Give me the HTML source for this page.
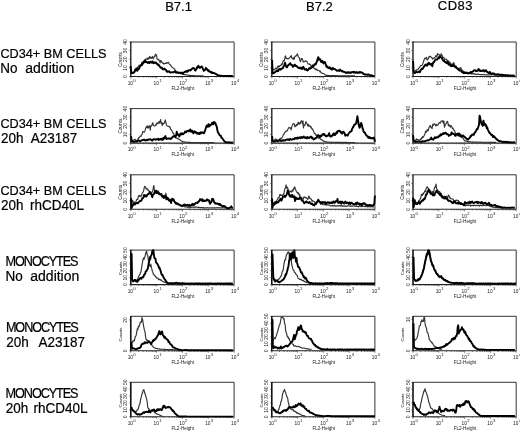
<!DOCTYPE html><html><head><meta charset="utf-8"><style>html,body{margin:0;padding:0;background:#fff;width:520px;height:432px;overflow:hidden}svg{display:block;filter:blur(0.3px)}text{font-family:"Liberation Sans",sans-serif}</style></head><body>
<svg width="520" height="432" viewBox="0 0 520 432">
<rect width="520" height="432" fill="#fff"/>
<g font-size="13" fill="#000" stroke="#000" stroke-width="0.2">
<text x="165.2" y="10.8">B7.1</text>
<text x="306" y="10.6">B7.2</text>
<text x="437.8" y="10.4" letter-spacing="0.5">CD83</text>
</g>
<text x="0.4" y="57.7" font-size="12.7" fill="#000" stroke="#000" stroke-width="0.2">CD34+ BM CELLS</text>
<text x="0.4" y="127.9" font-size="12.7" fill="#000" stroke="#000" stroke-width="0.2">CD34+ BM CELLS</text>
<text x="0.4" y="194.9" font-size="12.7" fill="#000" stroke="#000" stroke-width="0.2">CD34+ BM CELLS</text>
<text transform="translate(5.6 266) scale(0.92 1)" font-size="13.8" fill="#000" stroke="#000" stroke-width="0.2" letter-spacing="-1.2">MONOCYTES</text>
<text transform="translate(5.9 332.1) scale(0.92 1)" font-size="13.8" fill="#000" stroke="#000" stroke-width="0.2" letter-spacing="-1.2">MONOCYTES</text>
<text transform="translate(5.6 398.1) scale(0.92 1)" font-size="13.8" fill="#000" stroke="#000" stroke-width="0.2" letter-spacing="-1.2">MONOCYTES</text>
<text transform="translate(0.2 72.9) scale(1 1.06)" font-size="13.5" fill="#000" stroke="#000" stroke-width="0.2">No</text>
<text transform="translate(25.3 72.9) scale(1 1.06)" font-size="14.0" fill="#000" stroke="#000" stroke-width="0.2">addition</text>
<text transform="translate(1 143.3) scale(1 1.06)" font-size="13.5" fill="#000" stroke="#000" stroke-width="0.2">20h</text>
<text transform="translate(30.8 143.3) scale(1 1.06)" font-size="13.5" fill="#000" stroke="#000" stroke-width="0.2">A23187</text>
<text transform="translate(1 210) scale(1 1.06)" font-size="13.5" fill="#000" stroke="#000" stroke-width="0.2">20h</text>
<text transform="translate(29.9 210) scale(1 1.06)" font-size="13.5" fill="#000" stroke="#000" stroke-width="0.2">rhCD40L</text>
<text transform="translate(5.6 280.6) scale(1 1.06)" font-size="13.5" fill="#000" stroke="#000" stroke-width="0.2">No</text>
<text transform="translate(30.3 280.6) scale(1 1.06)" font-size="14.0" fill="#000" stroke="#000" stroke-width="0.2">addition</text>
<text transform="translate(6.2 347) scale(1 1.06)" font-size="13.5" fill="#000" stroke="#000" stroke-width="0.2">20h</text>
<text transform="translate(38.4 347) scale(1 1.06)" font-size="13.5" fill="#000" stroke="#000" stroke-width="0.2">A23187</text>
<text transform="translate(5.7 413) scale(1 1.06)" font-size="13.5" fill="#000" stroke="#000" stroke-width="0.2">20h</text>
<text transform="translate(33.4 413) scale(1 1.06)" font-size="13.5" fill="#000" stroke="#000" stroke-width="0.2">rhCD40L</text>
<path d="M130.8 42H234.1V76.5" fill="none" stroke="#333" stroke-width="1"/>
<path d="M130.8 76.5H234.1" fill="none" stroke="#222" stroke-width="1.1"/>
<path d="M130.8 41.6V77" fill="none" stroke="#111" stroke-width="1.3"/>
<path d="M130.8 76.5v2M138.57 76.5v1.2M143.12 76.5v1.2M146.35 76.5v1.2M148.85 76.5v1.2M150.9 76.5v1.2M152.62 76.5v1.2M154.12 76.5v1.2M155.44 76.5v1.2M156.62 76.5v2M164.4 76.5v1.2M168.95 76.5v1.2M172.17 76.5v1.2M174.68 76.5v1.2M176.72 76.5v1.2M178.45 76.5v1.2M179.95 76.5v1.2M181.27 76.5v1.2M182.45 76.5v2M190.22 76.5v1.2M194.77 76.5v1.2M198 76.5v1.2M200.5 76.5v1.2M202.55 76.5v1.2M204.27 76.5v1.2M205.77 76.5v1.2M207.09 76.5v1.2M208.28 76.5v2M216.05 76.5v1.2M220.6 76.5v1.2M223.82 76.5v1.2M226.33 76.5v1.2M228.37 76.5v1.2M230.1 76.5v1.2M231.6 76.5v1.2M232.92 76.5v1.2M234.1 76.5v2" stroke="#333" stroke-width="0.6"/>
<text x="127.7" y="84.7" font-size="4.8" fill="#1a1a1a">10<tspan font-size="4.3" dx="0.3" dy="-2.7">0</tspan></text>
<text x="153.53" y="84.7" font-size="4.8" fill="#1a1a1a">10<tspan font-size="4.3" dx="0.3" dy="-2.7">1</tspan></text>
<text x="179.35" y="84.7" font-size="4.8" fill="#1a1a1a">10<tspan font-size="4.3" dx="0.3" dy="-2.7">2</tspan></text>
<text x="205.18" y="84.7" font-size="4.8" fill="#1a1a1a">10<tspan font-size="4.3" dx="0.3" dy="-2.7">3</tspan></text>
<text x="231" y="84.7" font-size="4.8" fill="#1a1a1a">10<tspan font-size="4.3" dx="0.3" dy="-2.7">4</tspan></text>
<text x="182.85" y="89.8" font-size="4.6" fill="#1a1a1a" text-anchor="middle">FL2-Height</text>
<text transform="translate(127.3 76.5) rotate(-90)" font-size="5" fill="#1a1a1a" text-anchor="middle">0</text>
<text transform="translate(127.3 67.88) rotate(-90)" font-size="5" fill="#1a1a1a" text-anchor="middle">10</text>
<text transform="translate(127.3 59.25) rotate(-90)" font-size="5" fill="#1a1a1a" text-anchor="middle">20</text>
<text transform="translate(127.3 50.62) rotate(-90)" font-size="5" fill="#1a1a1a" text-anchor="middle">30</text>
<text transform="translate(127.3 42) rotate(-90)" font-size="5" fill="#1a1a1a" text-anchor="middle">40</text>
<path d="M130.8 76.5h-1.6M130.8 67.88h-1.6M130.8 59.25h-1.6M130.8 50.62h-1.6M130.8 42h-1.6" stroke="#333" stroke-width="0.6"/>
<text transform="translate(122 59.6) rotate(-90)" font-size="4.7" fill="#1a1a1a" text-anchor="middle">Counts</text>
<g transform="translate(129 39) scale(0.10385)" fill="none" stroke-linejoin="round">
<polyline points="22.0,330.0 26.0,333.6 30.0,333.9 35.0,330.4 40.0,328.1 45.0,325.1 50.0,319.0 55.0,318.6 60.0,307.4 65.0,302.2 70.0,296.2 75.0,293.7 80.0,280.1 85.0,266.4 90.0,264.5 95.0,259.6 100.0,250.5 105.0,257.6 110.0,254.1 115.0,246.0 120.0,243.0 125.0,226.2 130.0,229.8 135.0,226.0 140.0,214.1 145.0,209.4 150.0,201.2 155.0,198.5 160.0,192.6 165.0,195.0 170.0,191.5 175.0,184.4 180.0,198.7 185.0,181.7 190.0,192.4 195.0,182.7 200.0,165.9 205.0,185.4 210.0,179.5 215.0,186.6 220.0,179.2 225.0,167.7 230.0,184.8 235.0,191.5 240.0,173.7 245.0,165.5 250.0,169.8 254.0,145.6 258.0,149.9 265.0,153.1 270.0,191.6 275.0,197.2 280.0,198.8 285.0,195.6 290.0,206.0 295.0,215.2 300.0,229.2 305.0,206.6 310.0,211.1 315.0,221.9 320.0,226.0 325.0,233.9 330.0,230.8 335.0,241.8 340.0,237.0 345.0,236.7 350.0,233.9 355.0,234.4 360.0,227.7 365.0,234.0 370.0,230.8 375.0,226.3 380.0,223.7 385.0,237.2 390.0,243.0 395.0,247.1 400.0,247.6 405.0,262.1 410.0,266.6 415.0,272.2 420.0,275.7 425.0,279.0 430.0,281.9 435.0,285.6 440.0,293.4 445.0,302.9 450.0,302.0 455.0,314.1 460.0,319.4 465.0,321.3 470.0,319.0 475.0,325.0 480.0,322.8 485.0,324.5 490.0,329.4 495.0,333.9 500.0,335.0 505.0,335.5 510.0,332.4 515.0,338.1 520.0,339.9 525.0,341.4 530.0,343.1 535.0,341.5 540.0,344.2 545.0,342.9 550.0,344.1 555.0,346.7 560.0,346.2 565.0,348.2 570.0,347.5 575.0,348.5 580.0,350.3 585.0,349.7 590.0,350.8 595.0,351.6 600.0,351.5 605.0,352.1 610.0,351.8 615.0,352.7 620.0,353.1 625.0,353.2 630.0,353.3 635.0,353.5 640.0,354.0 645.0,353.9 650.0,354.1 655.0,354.5 660.0,354.6 665.0,354.8 670.0,355.0 675.0,355.1 680.0,355.2 685.0,355.3 690.0,355.4 695.0,355.5 700.0,355.6 705.0,355.7 710.0,355.8 715.0,355.9 720.0,356.0" stroke="#333" stroke-width="1.15" vector-effect="non-scaling-stroke"/>
<polyline points="15.0,260.0 22.0,327.2 26.0,324.6 30.0,323.0 35.0,324.6 40.0,327.2 45.0,320.8 50.0,321.5 55.0,309.4 60.0,294.1 65.0,294.4 70.0,283.3 75.0,301.2 80.0,306.2 85.0,292.6 90.0,287.2 95.0,289.1 100.0,275.3 105.0,267.2 110.0,259.7 115.0,254.8 120.0,252.3 125.0,251.4 130.0,229.3 135.0,236.8 140.0,221.2 145.0,224.6 150.0,219.0 155.0,208.7 160.0,223.1 165.0,217.2 170.0,220.0 175.0,225.4 180.0,230.7 185.0,227.9 190.0,221.7 195.0,232.1 200.0,230.7 205.0,218.0 210.0,223.9 215.0,225.4 220.0,228.5 225.0,214.7 230.0,226.1 235.0,233.3 240.0,224.3 245.0,228.0 250.0,230.7 255.0,227.6 260.0,225.7 265.0,236.8 270.0,240.5 275.0,239.5 280.0,251.7 285.0,247.5 290.0,254.7 295.0,264.6 300.0,270.4 305.0,276.5 310.0,277.5 315.0,273.5 320.0,285.5 325.0,291.3 330.0,293.2 335.0,291.5 340.0,285.2 345.0,289.9 350.0,296.2 355.0,295.1 360.0,307.4 365.0,314.7 370.0,310.8 375.0,316.7 380.0,314.7 385.0,311.3 390.0,315.0 395.0,323.5 400.0,322.3 405.0,320.6 410.0,321.3 415.0,320.7 420.0,320.9 425.0,320.8 430.0,320.3 435.0,314.6 440.0,313.5 445.0,316.6 450.0,322.3 455.0,325.7 460.0,322.3 465.0,321.4 470.0,324.8 475.0,321.5 480.0,327.0 485.0,324.7 490.0,323.7 495.0,324.8 500.0,328.4 505.0,328.3 510.0,321.8 515.0,330.1 520.0,332.9 525.0,323.6 530.0,322.1 535.0,318.8 540.0,313.3 545.0,312.1 550.0,316.8 555.0,308.7 560.0,306.4 565.0,314.4 570.0,303.7 575.0,303.1 580.0,299.6 585.0,300.4 590.0,304.4 595.0,295.7 600.0,296.1 605.0,288.9 610.0,284.7 615.0,280.5 620.0,278.6 625.0,282.0 630.0,286.5 635.0,301.9 640.0,303.7 645.0,291.6 650.0,288.2 655.0,271.5 660.0,276.4 664.0,263.1 668.0,258.0 675.0,271.3 680.0,276.9 685.0,278.2 690.0,270.5 695.0,266.0 700.0,263.5 705.0,271.2 710.0,283.8 715.0,294.6 720.0,306.9 725.0,301.8 730.0,300.1 735.0,292.3 740.0,277.7 745.0,287.7 750.0,289.2 755.0,298.3 760.0,295.6 765.0,311.4 770.0,303.8 775.0,314.0 780.0,313.1 785.0,321.1 790.0,316.1 795.0,326.5 800.0,320.3 805.0,327.2 810.0,326.9 815.0,327.6 820.0,327.4 825.0,330.6 830.0,332.6 835.0,334.8 840.0,338.4 845.0,343.8 850.0,345.2 855.0,347.0 860.0,350.2 865.0,351.2 870.0,351.7 875.0,352.6 880.0,353.1 885.0,353.3 890.0,353.9 895.0,354.6 900.0,355.0 905.0,355.2 910.0,355.5 915.0,355.8 920.0,356.0 925.0,356.2 930.0,356.5 935.0,356.8 940.0,357.0 945.0,357.0 950.0,357.0 955.0,357.0 960.0,357.0 965.0,357.0 970.0,357.0 975.0,357.0 980.0,357.0 985.0,357.0 990.0,357.0 995.0,357.0 1000.0,357.0" stroke="#000" stroke-width="1.9" vector-effect="non-scaling-stroke"/>
</g>
<path d="M271.8 42H374.9V76.5" fill="none" stroke="#333" stroke-width="1"/>
<path d="M271.8 76.5H374.9" fill="none" stroke="#222" stroke-width="1.1"/>
<path d="M271.8 41.6V77" fill="none" stroke="#111" stroke-width="1.3"/>
<path d="M271.8 76.5v2M279.56 76.5v1.2M284.1 76.5v1.2M287.32 76.5v1.2M289.82 76.5v1.2M291.86 76.5v1.2M293.58 76.5v1.2M295.08 76.5v1.2M296.4 76.5v1.2M297.57 76.5v2M305.33 76.5v1.2M309.87 76.5v1.2M313.09 76.5v1.2M315.59 76.5v1.2M317.63 76.5v1.2M319.36 76.5v1.2M320.85 76.5v1.2M322.17 76.5v1.2M323.35 76.5v2M331.11 76.5v1.2M335.65 76.5v1.2M338.87 76.5v1.2M341.37 76.5v1.2M343.41 76.5v1.2M345.13 76.5v1.2M346.63 76.5v1.2M347.95 76.5v1.2M349.12 76.5v2M356.88 76.5v1.2M361.42 76.5v1.2M364.64 76.5v1.2M367.14 76.5v1.2M369.18 76.5v1.2M370.91 76.5v1.2M372.4 76.5v1.2M373.72 76.5v1.2M374.9 76.5v2" stroke="#333" stroke-width="0.6"/>
<text x="268.7" y="84.7" font-size="4.8" fill="#1a1a1a">10<tspan font-size="4.3" dx="0.3" dy="-2.7">0</tspan></text>
<text x="294.47" y="84.7" font-size="4.8" fill="#1a1a1a">10<tspan font-size="4.3" dx="0.3" dy="-2.7">1</tspan></text>
<text x="320.25" y="84.7" font-size="4.8" fill="#1a1a1a">10<tspan font-size="4.3" dx="0.3" dy="-2.7">2</tspan></text>
<text x="346.02" y="84.7" font-size="4.8" fill="#1a1a1a">10<tspan font-size="4.3" dx="0.3" dy="-2.7">3</tspan></text>
<text x="371.8" y="84.7" font-size="4.8" fill="#1a1a1a">10<tspan font-size="4.3" dx="0.3" dy="-2.7">4</tspan></text>
<text x="323.75" y="89.8" font-size="4.6" fill="#1a1a1a" text-anchor="middle">FL2-Height</text>
<text transform="translate(268.3 76.5) rotate(-90)" font-size="5" fill="#1a1a1a" text-anchor="middle">0</text>
<text transform="translate(268.3 67.88) rotate(-90)" font-size="5" fill="#1a1a1a" text-anchor="middle">10</text>
<text transform="translate(268.3 59.25) rotate(-90)" font-size="5" fill="#1a1a1a" text-anchor="middle">20</text>
<text transform="translate(268.3 50.62) rotate(-90)" font-size="5" fill="#1a1a1a" text-anchor="middle">30</text>
<text transform="translate(268.3 42) rotate(-90)" font-size="5" fill="#1a1a1a" text-anchor="middle">40</text>
<path d="M271.8 76.5h-1.6M271.8 67.88h-1.6M271.8 59.25h-1.6M271.8 50.62h-1.6M271.8 42h-1.6" stroke="#333" stroke-width="0.6"/>
<text transform="translate(263 59.6) rotate(-90)" font-size="4.7" fill="#1a1a1a" text-anchor="middle">Counts</text>
<g transform="translate(270 39) scale(0.10385)" fill="none" stroke-linejoin="round">
<polyline points="25.0,300.0 30.0,289.7 35.0,295.2 40.0,296.4 45.0,291.5 50.0,287.4 55.0,279.2 60.0,284.9 65.0,289.4 70.0,271.0 75.0,262.1 80.0,270.7 85.0,258.8 90.0,267.0 95.0,256.5 100.0,256.5 105.0,254.1 110.0,239.9 115.0,248.6 120.0,240.5 125.0,215.3 130.0,207.4 135.0,210.9 140.0,202.9 145.0,172.0 150.0,162.7 155.0,183.1 160.0,189.2 165.0,188.5 170.0,188.5 175.0,192.4 180.0,188.8 185.0,183.6 190.0,178.2 195.0,176.5 200.0,164.6 205.0,160.3 210.0,183.5 215.0,183.9 220.0,193.4 225.0,179.9 230.0,197.0 235.0,188.9 240.0,165.4 245.0,163.2 250.0,165.9 255.0,155.8 260.0,152.4 264.0,142.8 268.0,159.1 275.0,174.4 280.0,177.7 285.0,197.0 290.0,211.2 295.0,217.6 300.0,185.1 305.0,194.6 310.0,189.3 315.0,201.8 320.0,221.4 325.0,218.2 330.0,218.2 335.0,216.1 340.0,209.6 345.0,213.8 350.0,212.3 355.0,218.7 360.0,225.2 365.0,238.1 370.0,240.4 375.0,240.5 380.0,244.8 385.0,241.3 390.0,246.8 395.0,263.6 400.0,273.3 405.0,269.1 410.0,268.2 415.0,267.1 420.0,275.0 425.0,285.2 430.0,284.3 435.0,285.6 440.0,295.4 445.0,288.6 450.0,295.2 455.0,303.9 460.0,301.1 465.0,301.9 470.0,301.9 475.0,308.1 480.0,316.0 485.0,308.8 490.0,323.1 495.0,325.8 500.0,328.6 505.0,329.6 510.0,332.4 515.0,332.6 520.0,335.4 525.0,339.7 530.0,343.6 535.0,348.4 540.0,350.1 545.0,349.8 550.0,350.5 555.0,350.7 560.0,350.8 565.0,351.1 570.0,351.5 575.0,351.9 580.0,352.1 585.0,352.1 590.0,351.8 595.0,352.1 600.0,352.2 605.0,352.6 610.0,352.9 615.0,353.0 620.0,353.1 625.0,353.2 630.0,353.0 635.0,353.4 640.0,353.4 645.0,353.2 650.0,353.3 655.0,353.5 660.0,353.9 665.0,353.8 670.0,353.9 675.0,354.1 680.0,354.0 685.0,354.0 690.0,354.0 695.0,354.2 700.0,354.1 705.0,354.2 710.0,354.3 715.0,354.3 720.0,354.3 725.0,354.4 730.0,354.3 735.0,354.4 740.0,354.5 745.0,354.5 750.0,354.5 755.0,354.6 760.0,354.6 765.0,354.6 770.0,354.7 775.0,354.7 780.0,354.7 785.0,354.7 790.0,354.8 795.0,354.8 800.0,354.9 805.0,354.9 810.0,354.9 815.0,355.0 820.0,355.0" stroke="#333" stroke-width="1.15" vector-effect="non-scaling-stroke"/>
<polyline points="20.0,200.0 25.0,330.6 30.0,324.9 35.0,329.4 40.0,326.8 45.0,319.6 50.0,319.4 55.0,311.4 60.0,308.9 65.0,307.2 70.0,310.1 75.0,301.1 80.0,308.0 85.0,291.9 90.0,292.1 95.0,289.1 100.0,296.4 105.0,288.0 110.0,287.1 115.0,282.3 120.0,284.6 125.0,278.5 130.0,265.1 135.0,258.8 140.0,243.8 145.0,227.3 152.0,256.0 156.0,263.2 160.0,272.7 165.0,271.5 170.0,258.2 175.0,252.8 180.0,248.6 185.0,243.2 190.0,243.3 195.0,233.1 200.0,244.3 205.0,250.6 210.0,252.2 215.0,251.6 220.0,268.5 225.0,254.0 230.0,261.1 235.0,251.3 240.0,246.6 245.0,255.9 250.0,260.7 255.0,259.0 260.0,265.2 265.0,272.3 270.0,272.8 275.0,279.9 280.0,279.6 285.0,277.5 290.0,281.1 295.0,274.5 300.0,285.8 305.0,285.5 310.0,287.8 315.0,272.2 320.0,268.3 325.0,275.2 330.0,287.7 335.0,294.2 340.0,290.7 345.0,295.0 350.0,289.5 355.0,300.4 360.0,303.8 365.0,299.5 370.0,294.3 375.0,282.1 380.0,280.1 385.0,287.0 390.0,283.8 395.0,281.4 400.0,269.1 405.0,271.7 410.0,253.7 415.0,265.6 420.0,261.9 425.0,249.5 430.0,242.0 435.0,245.9 440.0,243.7 445.0,232.0 450.0,221.0 455.0,205.1 460.0,188.0 465.0,175.1 470.0,200.4 475.0,189.2 480.0,193.2 485.0,196.3 490.0,220.6 495.0,221.3 500.0,211.1 505.0,211.4 510.0,228.2 515.0,235.4 520.0,220.1 525.0,225.3 530.0,222.7 535.0,239.2 540.0,253.8 545.0,270.2 550.0,263.1 555.0,266.2 560.0,277.6 565.0,280.8 570.0,278.1 575.0,272.3 580.0,286.9 585.0,281.8 590.0,290.2 595.0,295.9 600.0,286.0 605.0,278.2 610.0,285.8 615.0,288.8 620.0,289.9 625.0,289.5 630.0,295.3 635.0,298.2 640.0,301.8 645.0,307.2 650.0,304.9 655.0,302.6 660.0,300.6 665.0,307.2 670.0,303.2 675.0,294.8 680.0,303.1 685.0,302.5 690.0,309.8 695.0,313.1 700.0,309.2 705.0,314.2 710.0,317.0 715.0,317.8 720.0,317.8 725.0,320.7 730.0,327.5 735.0,322.6 740.0,321.9 745.0,326.6 750.0,319.1 755.0,320.5 760.0,325.0 765.0,324.8 770.0,320.6 775.0,325.3 780.0,326.8 785.0,320.8 790.0,320.6 795.0,317.4 800.0,317.5 805.0,323.2 810.0,316.1 815.0,320.9 820.0,325.3 825.0,320.9 830.0,324.5 835.0,317.4 840.0,323.9 845.0,326.8 850.0,326.5 855.0,321.5 860.0,318.2 865.0,324.4 870.0,317.2 875.0,322.4 880.0,321.7 885.0,322.8 890.0,325.2 895.0,327.8 900.0,336.9 905.0,338.1 910.0,341.4 915.0,344.0 920.0,341.2 925.0,341.1 930.0,342.8 935.0,345.5 940.0,344.9 945.0,341.8 950.0,341.8 955.0,344.0 960.0,347.5 965.0,350.3 970.0,349.8 975.0,348.0 980.0,349.6 985.0,352.1 990.0,353.7 995.0,355.0 1000.0,355.0 1005.0,355.0" stroke="#000" stroke-width="1.9" vector-effect="non-scaling-stroke"/>
</g>
<path d="M413 42H516.2V76.5" fill="none" stroke="#333" stroke-width="1"/>
<path d="M413 76.5H516.2" fill="none" stroke="#222" stroke-width="1.1"/>
<path d="M413 41.6V77" fill="none" stroke="#111" stroke-width="1.3"/>
<path d="M413 76.5v2M420.77 76.5v1.2M425.31 76.5v1.2M428.53 76.5v1.2M431.03 76.5v1.2M433.08 76.5v1.2M434.8 76.5v1.2M436.3 76.5v1.2M437.62 76.5v1.2M438.8 76.5v2M446.57 76.5v1.2M451.11 76.5v1.2M454.33 76.5v1.2M456.83 76.5v1.2M458.88 76.5v1.2M460.6 76.5v1.2M462.1 76.5v1.2M463.42 76.5v1.2M464.6 76.5v2M472.37 76.5v1.2M476.91 76.5v1.2M480.13 76.5v1.2M482.63 76.5v1.2M484.68 76.5v1.2M486.4 76.5v1.2M487.9 76.5v1.2M489.22 76.5v1.2M490.4 76.5v2M498.17 76.5v1.2M502.71 76.5v1.2M505.93 76.5v1.2M508.43 76.5v1.2M510.48 76.5v1.2M512.2 76.5v1.2M513.7 76.5v1.2M515.02 76.5v1.2M516.2 76.5v2" stroke="#333" stroke-width="0.6"/>
<text x="409.9" y="84.7" font-size="4.8" fill="#1a1a1a">10<tspan font-size="4.3" dx="0.3" dy="-2.7">0</tspan></text>
<text x="435.7" y="84.7" font-size="4.8" fill="#1a1a1a">10<tspan font-size="4.3" dx="0.3" dy="-2.7">1</tspan></text>
<text x="461.5" y="84.7" font-size="4.8" fill="#1a1a1a">10<tspan font-size="4.3" dx="0.3" dy="-2.7">2</tspan></text>
<text x="487.3" y="84.7" font-size="4.8" fill="#1a1a1a">10<tspan font-size="4.3" dx="0.3" dy="-2.7">3</tspan></text>
<text x="513.1" y="84.7" font-size="4.8" fill="#1a1a1a">10<tspan font-size="4.3" dx="0.3" dy="-2.7">4</tspan></text>
<text x="465" y="89.8" font-size="4.6" fill="#1a1a1a" text-anchor="middle">FL2-Height</text>
<text transform="translate(409.5 76.5) rotate(-90)" font-size="5" fill="#1a1a1a" text-anchor="middle">0</text>
<text transform="translate(409.5 67.88) rotate(-90)" font-size="5" fill="#1a1a1a" text-anchor="middle">10</text>
<text transform="translate(409.5 59.25) rotate(-90)" font-size="5" fill="#1a1a1a" text-anchor="middle">20</text>
<text transform="translate(409.5 50.62) rotate(-90)" font-size="5" fill="#1a1a1a" text-anchor="middle">30</text>
<text transform="translate(409.5 42) rotate(-90)" font-size="5" fill="#1a1a1a" text-anchor="middle">40</text>
<path d="M413 76.5h-1.6M413 67.88h-1.6M413 59.25h-1.6M413 50.62h-1.6M413 42h-1.6" stroke="#333" stroke-width="0.6"/>
<text transform="translate(404.2 59.6) rotate(-90)" font-size="4.7" fill="#1a1a1a" text-anchor="middle">Counts</text>
<g transform="translate(411 39) scale(0.10385)" fill="none" stroke-linejoin="round">
<polyline points="25.0,320.0 30.0,321.6 35.0,317.8 40.0,304.2 45.0,302.5 50.0,304.7 55.0,295.5 60.0,296.5 65.0,293.3 70.0,288.6 75.0,279.7 80.0,276.3 85.0,266.4 90.0,262.8 95.0,254.1 100.0,255.1 105.0,255.3 110.0,247.7 115.0,232.9 120.0,218.8 125.0,202.8 130.0,191.4 135.0,185.0 140.0,190.2 145.0,181.6 150.0,177.0 154.0,199.3 158.0,200.6 165.0,191.4 170.0,178.6 175.0,168.2 180.0,173.1 185.0,165.8 190.0,170.3 195.0,178.0 200.0,181.9 205.0,182.4 210.0,194.6 215.0,187.3 220.0,183.4 225.0,185.2 230.0,176.7 235.0,172.6 240.0,158.7 245.0,172.8 250.0,167.5 255.0,140.7 262.0,147.2 266.0,151.0 270.0,148.9 275.0,155.8 280.0,159.7 285.0,161.7 290.0,140.0 295.0,159.1 300.0,156.1 305.0,175.0 310.0,180.3 315.0,176.5 320.0,186.6 325.0,197.6 330.0,195.3 335.0,194.7 340.0,193.6 345.0,201.1 350.0,214.4 355.0,205.2 360.0,223.8 365.0,215.1 370.0,233.5 375.0,223.6 380.0,239.3 385.0,239.1 390.0,240.1 395.0,242.8 400.0,247.9 405.0,239.2 410.0,226.2 415.0,234.3 420.0,250.2 425.0,265.2 430.0,267.1 435.0,260.3 440.0,275.3 445.0,278.7 450.0,286.4 455.0,280.3 460.0,293.6 465.0,280.8 470.0,287.3 475.0,279.0 480.0,275.7 485.0,295.6 490.0,294.5 495.0,305.3 500.0,314.6 505.0,309.2 510.0,311.4 515.0,322.0 520.0,319.2 525.0,323.6 530.0,317.7 535.0,322.4 540.0,321.9 545.0,327.8 550.0,323.9 555.0,332.5 560.0,326.3 565.0,333.0 570.0,329.1 575.0,332.1 580.0,337.0 585.0,332.8 590.0,333.0 595.0,336.2 600.0,334.3 605.0,333.6 610.0,340.2 615.0,337.0 620.0,337.8 625.0,339.3 630.0,340.5 635.0,341.1 640.0,338.2 645.0,339.2 650.0,337.8 655.0,340.1 660.0,341.9 665.0,342.1 670.0,343.1 675.0,342.7 680.0,343.5 685.0,343.2 690.0,342.6 695.0,342.1 700.0,344.1 705.0,343.2 710.0,342.9 715.0,344.5 720.0,346.2 725.0,343.8 730.0,345.3 735.0,344.7 740.0,345.0 745.0,343.9 750.0,346.4 755.0,344.2 760.0,345.3 765.0,344.7 770.0,343.5 775.0,345.5 780.0,344.5 785.0,344.6 790.0,344.9 795.0,345.6 800.0,345.8 805.0,347.4 810.0,347.4 815.0,348.8 820.0,349.0 825.0,349.2 830.0,347.6 835.0,348.2 840.0,347.9 845.0,348.7 850.0,348.9 855.0,349.3 860.0,349.2 865.0,348.4 870.0,348.9 875.0,349.1 880.0,348.3 885.0,348.5 890.0,349.2 895.0,348.8 900.0,350.0 905.0,349.3 910.0,349.1 915.0,349.4 920.0,349.6" stroke="#333" stroke-width="1.15" vector-effect="non-scaling-stroke"/>
<polyline points="20.0,210.0 25.0,316.1 30.0,326.1 35.0,327.4 40.0,327.0 45.0,321.2 50.0,316.1 55.0,316.5 60.0,320.7 65.0,320.7 70.0,317.9 75.0,311.6 80.0,312.8 85.0,319.8 90.0,310.6 95.0,298.3 100.0,291.1 105.0,284.5 110.0,289.7 115.0,283.0 120.0,274.3 125.0,264.0 130.0,260.0 135.0,250.0 140.0,253.1 145.0,243.5 150.0,254.7 155.0,257.3 160.0,250.7 165.0,235.1 170.0,229.5 175.0,231.7 180.0,243.6 185.0,245.2 190.0,247.2 195.0,238.7 200.0,245.6 205.0,262.3 210.0,236.1 215.0,224.1 220.0,224.4 225.0,217.8 230.0,206.0 235.0,201.3 240.0,196.1 245.0,198.9 250.0,199.3 255.0,192.9 260.0,185.9 265.0,179.3 270.0,186.3 275.0,168.6 280.0,170.8 285.0,174.6 290.0,177.2 295.0,177.3 300.0,193.4 305.0,197.3 310.0,209.5 315.0,207.8 320.0,208.3 325.0,220.5 330.0,218.1 335.0,222.9 340.0,231.7 345.0,229.4 350.0,220.8 355.0,226.5 360.0,244.5 365.0,247.4 370.0,242.8 375.0,245.5 380.0,255.9 385.0,262.9 390.0,252.4 395.0,259.1 400.0,260.4 405.0,250.0 410.0,258.5 415.0,258.9 420.0,267.2 425.0,265.5 430.0,268.2 435.0,278.3 440.0,279.6 445.0,284.3 450.0,287.4 455.0,293.8 460.0,294.9 465.0,303.2 470.0,301.3 475.0,301.5 480.0,303.4 485.0,307.4 490.0,318.1 495.0,316.7 500.0,322.1 505.0,327.9 510.0,328.1 515.0,324.6 520.0,328.2 525.0,328.7 530.0,327.8 535.0,325.7 540.0,325.2 545.0,331.4 550.0,329.1 555.0,330.4 560.0,329.4 565.0,327.7 570.0,321.7 575.0,318.6 580.0,322.9 585.0,316.9 590.0,316.9 595.0,312.6 600.0,310.7 605.0,302.9 610.0,301.6 615.0,299.5 620.0,299.6 625.0,309.5 630.0,307.1 635.0,308.8 640.0,303.2 645.0,302.7 650.0,288.7 655.0,293.1 660.0,306.3 665.0,300.2 670.0,309.4 675.0,308.9 680.0,304.8 685.0,307.7 690.0,306.4 695.0,300.3 700.0,300.1 705.0,313.0 710.0,309.4 715.0,304.2 720.0,300.1 725.0,303.6 730.0,316.0 735.0,314.9 740.0,320.6 745.0,326.8 750.0,324.9 755.0,328.0 760.0,317.5 765.0,328.4 770.0,332.0 775.0,335.8 780.0,332.0 785.0,332.5 790.0,330.4 795.0,333.2 800.0,334.8 805.0,335.2 810.0,340.2 815.0,340.9 820.0,341.0 825.0,342.6 830.0,341.2 835.0,339.7 840.0,342.8 845.0,341.2 850.0,344.4 855.0,344.8 860.0,344.1 865.0,343.9 870.0,343.6 875.0,344.0 880.0,346.5 885.0,345.0 890.0,347.5 895.0,346.4 900.0,347.6 905.0,348.4 910.0,348.7 915.0,350.3 920.0,349.6 925.0,350.0 930.0,349.5 935.0,349.4 940.0,350.3 945.0,350.3 950.0,351.0 955.0,351.7 960.0,351.6 965.0,351.6 970.0,352.2 975.0,352.5 980.0,351.5 985.0,352.0 990.0,352.5 995.0,352.3 1000.0,352.5" stroke="#000" stroke-width="1.9" vector-effect="non-scaling-stroke"/>
</g>
<path d="M130.8 108.6H234.1V143.1" fill="none" stroke="#333" stroke-width="1"/>
<path d="M130.8 143.1H234.1" fill="none" stroke="#222" stroke-width="1.1"/>
<path d="M130.8 108.2V143.6" fill="none" stroke="#111" stroke-width="1.3"/>
<path d="M130.8 143.1v2M138.57 143.1v1.2M143.12 143.1v1.2M146.35 143.1v1.2M148.85 143.1v1.2M150.9 143.1v1.2M152.62 143.1v1.2M154.12 143.1v1.2M155.44 143.1v1.2M156.62 143.1v2M164.4 143.1v1.2M168.95 143.1v1.2M172.17 143.1v1.2M174.68 143.1v1.2M176.72 143.1v1.2M178.45 143.1v1.2M179.95 143.1v1.2M181.27 143.1v1.2M182.45 143.1v2M190.22 143.1v1.2M194.77 143.1v1.2M198 143.1v1.2M200.5 143.1v1.2M202.55 143.1v1.2M204.27 143.1v1.2M205.77 143.1v1.2M207.09 143.1v1.2M208.28 143.1v2M216.05 143.1v1.2M220.6 143.1v1.2M223.82 143.1v1.2M226.33 143.1v1.2M228.37 143.1v1.2M230.1 143.1v1.2M231.6 143.1v1.2M232.92 143.1v1.2M234.1 143.1v2" stroke="#333" stroke-width="0.6"/>
<text x="127.7" y="151.3" font-size="4.8" fill="#1a1a1a">10<tspan font-size="4.3" dx="0.3" dy="-2.7">0</tspan></text>
<text x="153.53" y="151.3" font-size="4.8" fill="#1a1a1a">10<tspan font-size="4.3" dx="0.3" dy="-2.7">1</tspan></text>
<text x="179.35" y="151.3" font-size="4.8" fill="#1a1a1a">10<tspan font-size="4.3" dx="0.3" dy="-2.7">2</tspan></text>
<text x="205.18" y="151.3" font-size="4.8" fill="#1a1a1a">10<tspan font-size="4.3" dx="0.3" dy="-2.7">3</tspan></text>
<text x="231" y="151.3" font-size="4.8" fill="#1a1a1a">10<tspan font-size="4.3" dx="0.3" dy="-2.7">4</tspan></text>
<text x="182.85" y="156.4" font-size="4.6" fill="#1a1a1a" text-anchor="middle">FL2-Height</text>
<text transform="translate(127.3 143.1) rotate(-90)" font-size="5" fill="#1a1a1a" text-anchor="middle">0</text>
<text transform="translate(127.3 134.47) rotate(-90)" font-size="5" fill="#1a1a1a" text-anchor="middle">10</text>
<text transform="translate(127.3 125.85) rotate(-90)" font-size="5" fill="#1a1a1a" text-anchor="middle">20</text>
<text transform="translate(127.3 117.22) rotate(-90)" font-size="5" fill="#1a1a1a" text-anchor="middle">30</text>
<text transform="translate(127.3 108.6) rotate(-90)" font-size="5" fill="#1a1a1a" text-anchor="middle">40</text>
<path d="M130.8 143.1h-1.6M130.8 134.47h-1.6M130.8 125.85h-1.6M130.8 117.22h-1.6M130.8 108.6h-1.6" stroke="#333" stroke-width="0.6"/>
<text transform="translate(122 126.2) rotate(-90)" font-size="4.7" fill="#1a1a1a" text-anchor="middle">Counts</text>
<g transform="translate(129 106) scale(0.10385)" fill="none" stroke-linejoin="round">
<polyline points="20.0,290.0 25.0,330.6 30.0,332.0 35.0,335.5 40.0,327.7 45.0,328.0 50.0,325.8 55.0,321.7 60.0,321.8 65.0,330.2 70.0,331.3 75.0,333.4 80.0,331.4 85.0,325.5 90.0,306.7 95.0,309.9 100.0,301.4 105.0,293.3 110.0,289.3 115.0,292.6 120.0,279.3 125.0,273.1 130.0,257.9 135.0,243.2 140.0,250.1 145.0,251.7 150.0,249.1 155.0,234.8 160.0,215.6 165.0,204.3 170.0,196.8 175.0,210.1 180.0,190.4 185.0,212.1 190.0,209.1 195.0,190.7 200.0,191.2 205.0,233.7 210.0,190.0 215.0,192.0 220.0,188.5 225.0,166.3 230.0,162.9 235.0,182.9 240.0,189.4 245.0,192.4 250.0,192.7 255.0,183.9 260.0,175.8 265.0,181.5 270.0,161.0 275.0,169.2 280.0,161.7 285.0,165.2 290.0,149.7 295.0,164.9 300.0,144.1 305.0,130.5 310.0,168.2 315.0,162.3 320.0,188.4 325.0,162.8 330.0,173.7 335.0,166.8 340.0,168.1 345.0,146.3 350.0,134.4 355.0,158.8 360.0,176.9 365.0,188.6 370.0,192.8 375.0,196.6 380.0,194.5 385.0,196.5 390.0,203.5 395.0,201.7 400.0,224.5 405.0,226.6 410.0,236.5 415.0,239.7 420.0,254.1 425.0,261.5 430.0,263.1 435.0,281.0 440.0,287.7 445.0,288.7 450.0,300.4 455.0,310.5 460.0,310.3 465.0,313.8 470.0,309.5 475.0,317.4 480.0,319.6 485.0,321.5 490.0,324.2 495.0,330.7 500.0,335.2 505.0,337.4 510.0,338.4 515.0,342.3 520.0,346.5 525.0,345.5 530.0,345.3 535.0,346.0 540.0,348.1 545.0,347.6 550.0,348.2 555.0,348.8 560.0,349.9 565.0,350.9 570.0,350.3 575.0,350.4 580.0,350.6 585.0,350.8 590.0,350.9 595.0,351.4 600.0,351.8 605.0,351.7 610.0,351.6 615.0,352.0 620.0,352.4 625.0,351.7 630.0,351.8 635.0,352.2 640.0,352.3 645.0,352.3 650.0,352.2 655.0,352.5 660.0,352.2 665.0,352.5 670.0,352.7 675.0,352.2 680.0,352.6 685.0,352.5 690.0,352.7 695.0,352.0 700.0,352.7 705.0,352.6 710.0,352.8 715.0,352.9 720.0,352.3 725.0,352.7 730.0,352.3 735.0,352.6 740.0,352.9 745.0,352.4 750.0,352.5 755.0,352.4 760.0,352.5 765.0,352.5 770.0,352.5 775.0,353.1 780.0,353.1 785.0,352.8 790.0,353.0 795.0,353.0 800.0,352.9 805.0,352.9 810.0,353.1 815.0,353.0 820.0,352.9" stroke="#333" stroke-width="1.15" vector-effect="non-scaling-stroke"/>
<polyline points="20.0,290.0 25.0,337.7 30.0,336.9 35.0,341.5 40.0,341.5 45.0,344.9 50.0,344.3 55.0,345.1 60.0,340.8 65.0,339.6 70.0,341.8 75.0,343.6 80.0,341.5 85.0,337.6 90.0,330.0 95.0,331.0 100.0,335.2 105.0,339.6 110.0,338.0 115.0,336.0 120.0,330.9 125.0,328.9 130.0,327.6 135.0,329.7 140.0,326.9 145.0,323.1 150.0,324.6 155.0,333.2 160.0,331.6 165.0,328.6 170.0,324.9 175.0,329.3 180.0,325.1 185.0,324.5 190.0,326.1 195.0,319.9 200.0,320.8 205.0,321.8 210.0,321.6 215.0,328.1 220.0,331.4 225.0,333.1 230.0,323.2 235.0,322.8 240.0,318.8 245.0,319.6 250.0,319.4 255.0,324.9 260.0,322.0 265.0,321.4 270.0,320.2 275.0,320.0 280.0,316.1 285.0,326.6 290.0,319.2 295.0,322.3 300.0,318.1 305.0,317.7 310.0,324.1 315.0,314.9 320.0,313.6 325.0,325.1 330.0,320.4 335.0,304.9 340.0,313.5 345.0,300.0 350.0,289.7 355.0,305.4 360.0,317.3 365.0,316.3 370.0,314.2 375.0,314.6 380.0,312.4 385.0,312.9 390.0,311.4 395.0,311.7 400.0,318.5 405.0,315.3 410.0,309.3 415.0,306.1 420.0,298.4 425.0,293.8 430.0,292.3 435.0,289.5 440.0,292.6 445.0,300.0 450.0,292.5 455.0,277.5 460.0,247.3 465.0,277.4 470.0,276.9 475.0,274.3 480.0,283.1 485.0,293.3 490.0,282.1 495.0,265.8 500.0,263.6 505.0,273.4 510.0,262.9 515.0,267.3 520.0,272.3 525.0,267.9 530.0,262.2 535.0,259.3 540.0,246.1 545.0,247.1 550.0,253.0 555.0,244.2 560.0,239.0 565.0,240.2 570.0,244.0 575.0,235.9 580.0,233.0 585.0,242.1 590.0,226.1 595.0,244.0 600.0,248.9 605.0,236.1 610.0,239.6 615.0,249.4 620.0,263.0 625.0,254.5 630.0,243.3 635.0,247.0 640.0,254.3 645.0,251.1 650.0,260.7 655.0,266.1 660.0,258.3 665.0,267.2 670.0,267.1 675.0,260.2 680.0,270.0 685.0,257.9 690.0,253.6 695.0,262.2 700.0,254.8 705.0,255.1 710.0,252.4 715.0,259.2 720.0,263.3 725.0,257.5 730.0,243.1 735.0,226.9 740.0,214.2 744.0,201.0 748.0,187.6 755.0,197.6 760.0,200.9 765.0,176.1 770.0,179.9 775.0,196.2 780.0,179.5 785.0,183.3 790.0,179.5 795.0,177.9 800.0,161.4 805.0,172.3 812.0,176.6 816.0,154.7 820.0,155.2 825.0,158.0 830.0,164.9 834.0,167.9 838.0,186.3 842.0,191.0 846.0,202.8 850.0,229.0 855.0,250.4 860.0,255.7 865.0,268.6 870.0,275.6 875.0,283.9 880.0,285.0 885.0,288.1 890.0,306.0 895.0,304.8 900.0,313.4 905.0,319.8 910.0,328.9 915.0,334.9 920.0,340.9 925.0,345.6 930.0,348.8 935.0,349.6 940.0,349.5 945.0,350.1 950.0,349.8 955.0,349.9 960.0,349.3 965.0,350.4 970.0,351.6 975.0,351.9 980.0,352.3 985.0,351.6 990.0,352.3 995.0,351.9 1000.0,351.9" stroke="#000" stroke-width="1.9" vector-effect="non-scaling-stroke"/>
</g>
<path d="M271.8 108.6H374.9V143.1" fill="none" stroke="#333" stroke-width="1"/>
<path d="M271.8 143.1H374.9" fill="none" stroke="#222" stroke-width="1.1"/>
<path d="M271.8 108.2V143.6" fill="none" stroke="#111" stroke-width="1.3"/>
<path d="M271.8 143.1v2M279.56 143.1v1.2M284.1 143.1v1.2M287.32 143.1v1.2M289.82 143.1v1.2M291.86 143.1v1.2M293.58 143.1v1.2M295.08 143.1v1.2M296.4 143.1v1.2M297.57 143.1v2M305.33 143.1v1.2M309.87 143.1v1.2M313.09 143.1v1.2M315.59 143.1v1.2M317.63 143.1v1.2M319.36 143.1v1.2M320.85 143.1v1.2M322.17 143.1v1.2M323.35 143.1v2M331.11 143.1v1.2M335.65 143.1v1.2M338.87 143.1v1.2M341.37 143.1v1.2M343.41 143.1v1.2M345.13 143.1v1.2M346.63 143.1v1.2M347.95 143.1v1.2M349.12 143.1v2M356.88 143.1v1.2M361.42 143.1v1.2M364.64 143.1v1.2M367.14 143.1v1.2M369.18 143.1v1.2M370.91 143.1v1.2M372.4 143.1v1.2M373.72 143.1v1.2M374.9 143.1v2" stroke="#333" stroke-width="0.6"/>
<text x="268.7" y="151.3" font-size="4.8" fill="#1a1a1a">10<tspan font-size="4.3" dx="0.3" dy="-2.7">0</tspan></text>
<text x="294.47" y="151.3" font-size="4.8" fill="#1a1a1a">10<tspan font-size="4.3" dx="0.3" dy="-2.7">1</tspan></text>
<text x="320.25" y="151.3" font-size="4.8" fill="#1a1a1a">10<tspan font-size="4.3" dx="0.3" dy="-2.7">2</tspan></text>
<text x="346.02" y="151.3" font-size="4.8" fill="#1a1a1a">10<tspan font-size="4.3" dx="0.3" dy="-2.7">3</tspan></text>
<text x="371.8" y="151.3" font-size="4.8" fill="#1a1a1a">10<tspan font-size="4.3" dx="0.3" dy="-2.7">4</tspan></text>
<text x="323.75" y="156.4" font-size="4.6" fill="#1a1a1a" text-anchor="middle">FL2-Height</text>
<text transform="translate(268.3 143.1) rotate(-90)" font-size="5" fill="#1a1a1a" text-anchor="middle">0</text>
<text transform="translate(268.3 134.47) rotate(-90)" font-size="5" fill="#1a1a1a" text-anchor="middle">10</text>
<text transform="translate(268.3 125.85) rotate(-90)" font-size="5" fill="#1a1a1a" text-anchor="middle">20</text>
<text transform="translate(268.3 117.22) rotate(-90)" font-size="5" fill="#1a1a1a" text-anchor="middle">30</text>
<text transform="translate(268.3 108.6) rotate(-90)" font-size="5" fill="#1a1a1a" text-anchor="middle">40</text>
<path d="M271.8 143.1h-1.6M271.8 134.47h-1.6M271.8 125.85h-1.6M271.8 117.22h-1.6M271.8 108.6h-1.6" stroke="#333" stroke-width="0.6"/>
<text transform="translate(263 126.2) rotate(-90)" font-size="4.7" fill="#1a1a1a" text-anchor="middle">Counts</text>
<g transform="translate(270 106) scale(0.10385)" fill="none" stroke-linejoin="round">
<polyline points="20.0,290.0 25.0,329.6 30.0,332.9 35.0,337.7 40.0,329.7 45.0,325.1 50.0,323.4 55.0,316.5 59.5,322.6 64.0,326.2 68.5,330.0 73.0,326.8 78.0,328.5 83.0,326.8 88.0,327.9 93.0,322.1 98.0,309.2 103.0,316.3 108.0,313.7 113.0,307.1 118.0,301.6 123.0,290.1 128.0,277.6 133.0,275.5 138.0,260.1 143.0,254.6 148.0,250.4 153.0,241.3 158.0,244.3 163.0,238.8 168.0,236.9 173.0,220.4 178.0,215.6 183.0,205.0 188.0,211.1 193.0,209.1 198.0,210.2 203.0,230.5 208.0,211.4 210.0,198.1 215.0,190.0 220.0,175.4 225.0,170.7 230.0,169.7 235.0,174.6 240.0,201.2 245.0,187.6 250.0,193.4 255.0,177.2 260.0,186.5 265.0,181.3 270.0,157.2 275.0,160.0 280.0,175.7 285.0,161.7 290.0,172.8 295.0,154.8 300.0,143.5 305.0,143.7 312.0,172.3 318.0,143.7 322.0,211.3 328.0,180.9 335.0,186.7 340.0,174.2 345.0,149.9 352.0,163.5 356.0,170.1 360.0,179.5 365.0,194.7 370.0,177.2 375.0,191.4 380.0,193.8 385.0,190.3 390.0,205.3 395.0,199.3 400.0,218.1 405.0,214.5 410.0,228.4 415.0,231.9 420.0,240.6 425.0,261.1 430.0,265.3 435.0,264.2 440.0,281.2 445.0,278.0 450.0,288.4 455.0,297.7 460.0,297.0 465.0,294.4 470.0,311.6 475.0,306.3 480.0,312.0 485.0,320.7 490.0,318.1 495.0,323.1 500.0,326.6 505.0,329.6 510.0,335.5 515.0,336.1 520.0,340.5 525.0,340.7 530.0,342.3 535.0,345.4 540.0,344.9 545.0,346.0 550.0,347.5 555.0,346.5 560.0,347.2 565.0,349.0 570.0,349.0 575.0,348.0 580.0,348.0 585.0,349.3 590.0,349.8 595.0,348.6 600.0,350.1 605.0,350.2 610.0,349.8 615.0,349.7 620.0,349.4 625.0,349.3 630.0,350.8 635.0,349.8 640.0,350.5 645.0,349.9 650.0,350.8 655.0,350.5 660.0,350.1 665.0,350.0 670.0,350.8 675.0,349.9 680.0,350.2 685.0,350.7 690.0,351.2 695.0,350.9 700.0,350.5 705.0,351.4 710.0,350.5 715.0,350.3 720.0,350.7 725.0,351.0 730.0,350.6 735.0,350.8 740.0,351.0 745.0,351.3 750.0,350.9 755.0,351.2 760.0,351.8 765.0,352.0 770.0,351.7 775.0,351.8 780.0,351.7 785.0,351.3 790.0,351.2 795.0,351.3 800.0,352.2 805.0,352.0 810.0,352.4 815.0,351.5 820.0,352.1" stroke="#333" stroke-width="1.15" vector-effect="non-scaling-stroke"/>
<polyline points="20.0,290.0 25.0,337.1 30.0,335.9 35.0,342.1 40.0,341.0 45.0,341.6 50.0,341.5 55.0,338.4 60.0,335.8 65.0,334.5 70.0,336.0 75.0,340.8 80.0,337.0 85.0,334.3 90.0,330.9 95.0,327.8 100.0,334.0 105.0,337.5 110.0,333.0 115.0,335.1 120.0,330.1 125.0,332.1 130.0,329.0 135.0,332.5 140.0,330.3 145.0,332.9 150.0,331.1 155.0,324.7 160.0,322.9 165.0,324.6 170.0,320.7 175.0,319.3 180.0,328.0 185.0,329.2 190.0,318.7 195.0,317.0 200.0,322.4 205.0,324.9 210.0,323.4 215.0,320.2 220.0,321.7 225.0,319.8 230.0,317.4 235.0,319.5 240.0,307.5 245.0,312.4 250.0,313.8 255.0,307.6 260.0,313.5 265.0,303.6 270.0,312.8 275.0,308.6 280.0,302.9 285.0,303.2 290.0,310.0 295.0,303.2 300.0,298.4 305.0,302.6 310.0,308.0 315.0,300.4 320.0,303.7 325.0,293.4 330.0,302.6 335.0,304.7 340.0,308.7 345.0,301.1 350.0,308.9 355.0,311.2 360.0,297.4 365.0,306.1 370.0,307.5 375.0,303.3 380.0,307.5 385.0,301.9 390.0,296.3 395.0,293.8 400.0,300.6 405.0,310.1 410.0,304.4 415.0,316.1 420.0,321.9 425.0,318.5 430.0,317.8 435.0,311.2 440.0,311.0 445.0,304.8 450.0,304.3 455.0,288.5 460.0,283.2 465.0,279.2 470.0,286.4 475.0,289.5 480.0,298.9 485.0,284.6 490.0,292.6 495.0,289.1 500.0,282.0 505.0,272.9 510.0,270.2 515.0,277.3 520.0,268.6 525.0,282.0 530.0,279.3 535.0,283.3 540.0,293.0 545.0,290.3 550.0,285.6 555.0,287.1 560.0,281.2 565.0,273.5 570.0,261.8 575.0,288.7 580.0,289.1 585.0,295.8 590.0,288.3 595.0,287.3 600.0,287.3 605.0,272.1 610.0,274.0 615.0,263.3 620.0,280.3 625.0,280.5 630.0,274.0 635.0,266.0 640.0,253.2 645.0,261.8 650.0,243.6 655.0,244.3 660.0,239.7 665.0,238.6 670.0,238.9 675.0,247.8 680.0,244.5 685.0,255.9 690.0,264.2 695.0,265.6 700.0,252.9 705.0,247.1 710.0,250.2 715.0,256.6 720.0,267.2 725.0,285.7 730.0,279.3 735.0,279.0 740.0,281.2 745.0,284.7 750.0,283.7 755.0,267.4 760.0,260.9 765.0,256.3 770.0,249.9 775.0,246.3 780.0,243.2 785.0,242.6 790.0,221.3 795.0,214.5 800.0,200.3 805.0,200.9 810.0,181.2 815.0,178.8 820.0,178.8 825.0,170.7 830.0,168.1 835.0,136.7 842.0,99.0 848.0,141.5 855.0,184.9 862.0,209.6 866.0,204.6 870.0,180.4 874.0,174.4 878.0,163.0 885.0,184.1 892.0,218.6 896.0,223.0 900.0,243.4 905.0,252.9 910.0,255.5 915.0,256.5 920.0,270.6 925.0,279.6 930.0,284.1 935.0,289.1 940.0,294.1 945.0,303.7 950.0,296.2 955.0,308.7 960.0,300.1 965.0,303.2 970.0,311.1 975.0,312.7 980.0,309.5 985.0,308.4 990.0,310.9 995.0,310.9 1000.0,303.4 1005.0,319.7 1010.0,344.8" stroke="#000" stroke-width="1.9" vector-effect="non-scaling-stroke"/>
</g>
<path d="M413 108.6H516.2V143.1" fill="none" stroke="#333" stroke-width="1"/>
<path d="M413 143.1H516.2" fill="none" stroke="#222" stroke-width="1.1"/>
<path d="M413 108.2V143.6" fill="none" stroke="#111" stroke-width="1.3"/>
<path d="M413 143.1v2M420.77 143.1v1.2M425.31 143.1v1.2M428.53 143.1v1.2M431.03 143.1v1.2M433.08 143.1v1.2M434.8 143.1v1.2M436.3 143.1v1.2M437.62 143.1v1.2M438.8 143.1v2M446.57 143.1v1.2M451.11 143.1v1.2M454.33 143.1v1.2M456.83 143.1v1.2M458.88 143.1v1.2M460.6 143.1v1.2M462.1 143.1v1.2M463.42 143.1v1.2M464.6 143.1v2M472.37 143.1v1.2M476.91 143.1v1.2M480.13 143.1v1.2M482.63 143.1v1.2M484.68 143.1v1.2M486.4 143.1v1.2M487.9 143.1v1.2M489.22 143.1v1.2M490.4 143.1v2M498.17 143.1v1.2M502.71 143.1v1.2M505.93 143.1v1.2M508.43 143.1v1.2M510.48 143.1v1.2M512.2 143.1v1.2M513.7 143.1v1.2M515.02 143.1v1.2M516.2 143.1v2" stroke="#333" stroke-width="0.6"/>
<text x="409.9" y="151.3" font-size="4.8" fill="#1a1a1a">10<tspan font-size="4.3" dx="0.3" dy="-2.7">0</tspan></text>
<text x="435.7" y="151.3" font-size="4.8" fill="#1a1a1a">10<tspan font-size="4.3" dx="0.3" dy="-2.7">1</tspan></text>
<text x="461.5" y="151.3" font-size="4.8" fill="#1a1a1a">10<tspan font-size="4.3" dx="0.3" dy="-2.7">2</tspan></text>
<text x="487.3" y="151.3" font-size="4.8" fill="#1a1a1a">10<tspan font-size="4.3" dx="0.3" dy="-2.7">3</tspan></text>
<text x="513.1" y="151.3" font-size="4.8" fill="#1a1a1a">10<tspan font-size="4.3" dx="0.3" dy="-2.7">4</tspan></text>
<text x="465" y="156.4" font-size="4.6" fill="#1a1a1a" text-anchor="middle">FL2-Height</text>
<text transform="translate(409.5 143.1) rotate(-90)" font-size="5" fill="#1a1a1a" text-anchor="middle">0</text>
<text transform="translate(409.5 134.47) rotate(-90)" font-size="5" fill="#1a1a1a" text-anchor="middle">10</text>
<text transform="translate(409.5 125.85) rotate(-90)" font-size="5" fill="#1a1a1a" text-anchor="middle">20</text>
<text transform="translate(409.5 117.22) rotate(-90)" font-size="5" fill="#1a1a1a" text-anchor="middle">30</text>
<text transform="translate(409.5 108.6) rotate(-90)" font-size="5" fill="#1a1a1a" text-anchor="middle">40</text>
<path d="M413 143.1h-1.6M413 134.47h-1.6M413 125.85h-1.6M413 117.22h-1.6M413 108.6h-1.6" stroke="#333" stroke-width="0.6"/>
<text transform="translate(404.2 126.2) rotate(-90)" font-size="4.7" fill="#1a1a1a" text-anchor="middle">Counts</text>
<g transform="translate(411 106) scale(0.10385)" fill="none" stroke-linejoin="round">
<polyline points="20.0,280.0 25.0,329.8 30.0,336.0 35.0,340.8 40.0,332.7 45.0,326.1 50.0,323.8 55.0,317.5 59.5,324.5 64.0,324.5 68.5,324.7 73.0,325.5 78.0,328.9 83.0,327.2 88.0,324.4 93.0,316.3 98.0,320.1 103.0,304.2 108.0,309.3 113.0,294.1 118.0,300.1 123.0,292.7 128.0,281.0 133.0,275.7 138.0,251.6 143.0,241.9 148.0,252.8 153.0,240.2 158.0,226.9 163.0,239.9 168.0,231.8 173.0,206.6 178.0,203.3 183.0,186.5 188.0,195.7 193.0,207.7 198.0,202.6 203.0,219.3 208.0,184.5 210.0,177.0 215.0,187.8 220.0,172.5 225.0,170.4 230.0,172.5 235.0,181.9 240.0,192.3 245.0,176.2 250.0,185.6 255.0,186.8 260.0,182.2 265.0,171.7 270.0,161.3 275.0,158.9 280.0,165.0 285.0,162.2 290.0,144.6 295.0,145.3 300.0,146.2 305.0,140.3 312.0,168.2 318.0,145.0 322.0,204.8 328.0,188.0 335.0,173.2 340.0,168.0 345.0,152.6 352.0,148.0 356.0,164.6 360.0,191.6 365.0,177.9 370.0,191.2 375.0,187.5 380.0,204.5 385.0,189.4 390.0,194.9 395.0,204.0 400.0,218.0 405.0,213.1 410.0,229.2 415.0,231.8 420.0,240.9 425.0,252.1 430.0,268.1 435.0,264.7 440.0,277.6 445.0,269.6 450.0,286.7 455.0,280.4 460.0,280.2 465.0,291.2 470.0,296.1 475.0,285.3 480.0,291.7 485.0,303.8 490.0,302.9 495.0,306.6 500.0,308.8 505.0,314.9 510.0,326.1 515.0,333.8 520.0,338.1 525.0,336.3 530.0,334.9 535.0,337.8 540.0,341.4 545.0,342.7 550.0,343.0 555.0,342.8 560.0,345.1 565.0,345.2 570.0,345.9 575.0,345.1 580.0,347.3 585.0,347.3 590.0,345.6 595.0,346.2 600.0,347.9 605.0,346.7 610.0,348.5 615.0,347.8 620.0,348.4 625.0,348.5 630.0,347.5 635.0,347.7 640.0,347.7 645.0,348.6 650.0,348.7 655.0,347.6 660.0,349.2 665.0,348.3 670.0,348.0 675.0,348.4 680.0,349.6 685.0,348.8 690.0,348.9 695.0,349.6 700.0,349.7 705.0,349.4 710.0,348.7 715.0,349.1 720.0,349.8 725.0,349.6 730.0,349.2 735.0,348.9 740.0,349.0 745.0,349.7 750.0,349.4 755.0,348.5 760.0,349.8 765.0,350.2 770.0,350.0 775.0,350.2 780.0,350.3 785.0,349.7 790.0,350.2 795.0,349.6 800.0,349.1 805.0,349.6 810.0,349.6 815.0,350.6 820.0,350.3" stroke="#333" stroke-width="1.15" vector-effect="non-scaling-stroke"/>
<polyline points="20.0,280.0 25.0,334.9 30.0,338.4 35.0,340.6 40.0,343.3 45.0,346.3 50.0,344.4 55.0,340.6 60.0,342.5 65.0,344.9 70.0,342.1 75.0,342.2 80.0,343.4 85.0,344.9 90.0,343.0 95.0,340.9 100.0,343.9 105.0,346.3 110.0,341.2 115.0,339.8 120.0,340.3 125.0,342.4 130.0,339.9 135.0,337.9 140.0,338.5 145.0,333.8 150.0,333.5 155.0,333.2 160.0,328.2 165.0,328.9 170.0,330.1 175.0,326.6 180.0,322.6 185.0,321.8 190.0,314.7 195.0,303.5 200.0,319.1 205.0,321.7 210.0,321.8 215.0,325.2 220.0,313.6 225.0,310.7 230.0,300.2 235.0,302.3 240.0,308.6 245.0,301.2 250.0,299.3 255.0,301.1 260.0,302.8 265.0,290.2 270.0,290.9 275.0,291.6 280.0,279.9 285.0,273.2 290.0,281.5 295.0,277.0 300.0,271.3 305.0,265.8 310.0,260.8 315.0,269.7 320.0,264.8 325.0,260.3 330.0,256.7 335.0,257.6 340.0,267.8 345.0,273.3 350.0,270.3 355.0,272.5 360.0,275.4 365.0,288.4 370.0,282.4 375.0,280.1 380.0,277.7 385.0,276.1 390.0,255.4 395.0,256.4 400.0,264.7 405.0,269.3 410.0,268.8 415.0,268.1 420.0,277.2 425.0,286.5 430.0,286.8 435.0,275.6 440.0,272.2 445.0,267.8 450.0,265.1 455.0,282.7 460.0,267.5 465.0,264.0 470.0,280.2 475.0,284.4 480.0,279.0 485.0,291.7 490.0,292.4 495.0,291.0 500.0,284.1 505.0,285.5 510.0,293.9 515.0,297.5 520.0,297.5 525.0,307.6 530.0,307.1 535.0,315.6 540.0,319.0 545.0,319.8 550.0,324.4 555.0,314.3 560.0,311.4 565.0,308.3 570.0,299.2 575.0,287.1 580.0,290.0 585.0,280.6 590.0,274.3 595.0,278.0 600.0,276.7 605.0,278.1 610.0,261.3 615.0,253.0 620.0,252.4 625.0,242.3 630.0,231.3 635.0,221.5 640.0,223.8 645.0,208.1 650.0,196.1 655.0,178.7 660.0,92.8 665.0,101.7 670.0,138.0 675.0,158.8 680.0,176.4 685.0,178.6 690.0,190.6 694.0,155.9 698.0,142.0 705.0,180.4 710.0,172.7 715.0,173.0 720.0,193.1 725.0,185.2 730.0,214.9 735.0,208.3 740.0,226.8 745.0,238.1 750.0,246.1 755.0,258.7 760.0,259.1 765.0,265.5 770.0,275.1 775.0,282.2 780.0,275.7 785.0,284.1 790.0,299.6 795.0,288.6 800.0,292.2 805.0,300.1 810.0,302.6 815.0,312.7 820.0,314.6 825.0,323.3 830.0,321.3 835.0,327.8 840.0,330.3 845.0,336.9 850.0,339.6 855.0,337.7 860.0,338.7 865.0,339.4 870.0,341.3 875.0,345.5 880.0,346.4 885.0,346.3 890.0,344.0 895.0,343.7 900.0,346.6 905.0,345.7 910.0,346.2 915.0,346.2 920.0,346.2 925.0,344.3 930.0,347.5 935.0,347.4 940.0,349.1 945.0,347.9 950.0,348.8 955.0,348.9 960.0,350.4 965.0,350.1 970.0,350.6 975.0,350.1 980.0,350.5 985.0,349.8 990.0,349.3 995.0,349.3 1000.0,349.3" stroke="#000" stroke-width="1.9" vector-effect="non-scaling-stroke"/>
</g>
<path d="M130.8 174.8H234.1V209.3" fill="none" stroke="#333" stroke-width="1"/>
<path d="M130.8 209.3H234.1" fill="none" stroke="#222" stroke-width="1.1"/>
<path d="M130.8 174.4V209.8" fill="none" stroke="#111" stroke-width="1.3"/>
<path d="M130.8 209.3v2M138.57 209.3v1.2M143.12 209.3v1.2M146.35 209.3v1.2M148.85 209.3v1.2M150.9 209.3v1.2M152.62 209.3v1.2M154.12 209.3v1.2M155.44 209.3v1.2M156.62 209.3v2M164.4 209.3v1.2M168.95 209.3v1.2M172.17 209.3v1.2M174.68 209.3v1.2M176.72 209.3v1.2M178.45 209.3v1.2M179.95 209.3v1.2M181.27 209.3v1.2M182.45 209.3v2M190.22 209.3v1.2M194.77 209.3v1.2M198 209.3v1.2M200.5 209.3v1.2M202.55 209.3v1.2M204.27 209.3v1.2M205.77 209.3v1.2M207.09 209.3v1.2M208.28 209.3v2M216.05 209.3v1.2M220.6 209.3v1.2M223.82 209.3v1.2M226.33 209.3v1.2M228.37 209.3v1.2M230.1 209.3v1.2M231.6 209.3v1.2M232.92 209.3v1.2M234.1 209.3v2" stroke="#333" stroke-width="0.6"/>
<text x="127.7" y="217.5" font-size="4.8" fill="#1a1a1a">10<tspan font-size="4.3" dx="0.3" dy="-2.7">0</tspan></text>
<text x="153.53" y="217.5" font-size="4.8" fill="#1a1a1a">10<tspan font-size="4.3" dx="0.3" dy="-2.7">1</tspan></text>
<text x="179.35" y="217.5" font-size="4.8" fill="#1a1a1a">10<tspan font-size="4.3" dx="0.3" dy="-2.7">2</tspan></text>
<text x="205.18" y="217.5" font-size="4.8" fill="#1a1a1a">10<tspan font-size="4.3" dx="0.3" dy="-2.7">3</tspan></text>
<text x="231" y="217.5" font-size="4.8" fill="#1a1a1a">10<tspan font-size="4.3" dx="0.3" dy="-2.7">4</tspan></text>
<text x="182.85" y="222.6" font-size="4.6" fill="#1a1a1a" text-anchor="middle">FL2-Height</text>
<text transform="translate(127.3 209.3) rotate(-90)" font-size="5" fill="#1a1a1a" text-anchor="middle">0</text>
<text transform="translate(127.3 200.68) rotate(-90)" font-size="5" fill="#1a1a1a" text-anchor="middle">10</text>
<text transform="translate(127.3 192.05) rotate(-90)" font-size="5" fill="#1a1a1a" text-anchor="middle">20</text>
<text transform="translate(127.3 183.43) rotate(-90)" font-size="5" fill="#1a1a1a" text-anchor="middle">30</text>
<text transform="translate(127.3 174.8) rotate(-90)" font-size="5" fill="#1a1a1a" text-anchor="middle">40</text>
<path d="M130.8 209.3h-1.6M130.8 200.68h-1.6M130.8 192.05h-1.6M130.8 183.43h-1.6M130.8 174.8h-1.6" stroke="#333" stroke-width="0.6"/>
<text transform="translate(122 192.4) rotate(-90)" font-size="4.7" fill="#1a1a1a" text-anchor="middle">Counts</text>
<g transform="translate(129 172) scale(0.10385)" fill="none" stroke-linejoin="round">
<polyline points="25.0,300.0 30.0,291.2 35.0,273.1 40.0,284.2 45.0,296.0 50.0,289.0 55.0,297.0 60.0,293.6 65.0,285.9 70.0,276.2 75.0,264.5 80.0,261.0 85.0,263.9 90.0,234.9 95.0,226.3 100.0,224.7 105.0,239.0 110.0,229.2 115.0,226.3 120.0,231.1 125.0,211.4 130.0,200.8 135.0,193.0 140.0,182.7 145.0,159.8 150.0,138.5 155.0,142.1 160.0,142.4 165.0,164.8 170.0,159.5 175.0,165.1 180.0,161.9 185.0,179.8 190.0,176.8 195.0,186.1 200.0,189.1 205.0,209.6 210.0,215.5 215.0,203.8 220.0,199.1 225.0,188.8 230.0,178.7 235.0,144.5 240.0,129.7 245.0,183.6 250.0,187.4 255.0,188.7 260.0,176.6 265.0,183.4 270.0,186.4 275.0,188.4 280.0,179.4 285.0,195.4 290.0,201.1 295.0,204.4 300.0,216.2 305.0,211.8 310.0,209.1 315.0,206.7 320.0,224.8 325.0,230.4 330.0,226.2 335.0,235.2 340.0,234.5 345.0,222.2 350.0,230.5 355.0,204.2 360.0,233.1 365.0,241.5 370.0,246.9 375.0,248.8 380.0,250.6 385.0,264.6 390.0,260.0 395.0,277.7 400.0,266.2 405.0,269.3 410.0,262.2 415.0,252.5 420.0,266.8 425.0,258.0 430.0,268.5 435.0,273.5 440.0,289.9 445.0,292.1 450.0,291.0 455.0,293.4 460.0,298.7 465.0,305.1 470.0,301.0 475.0,303.8 480.0,314.6 485.0,315.3 490.0,313.2 495.0,317.9 500.0,318.7 505.0,322.9 510.0,325.5 515.0,325.6 520.0,327.6 525.0,329.2 530.0,331.1 535.0,334.1 540.0,337.4 545.0,336.6 550.0,336.2 555.0,334.5 560.0,336.3 565.0,340.4 570.0,341.1 575.0,344.5 580.0,346.3 585.0,343.0 590.0,342.0 595.0,340.4 600.0,340.8 605.0,337.5 610.0,337.9 615.0,340.5 620.0,337.3 625.0,340.7 630.0,337.9 635.0,340.3 640.0,338.6 645.0,337.0 650.0,339.6 655.0,338.0 660.0,341.6 665.0,340.8 670.0,340.1 675.0,342.4 680.0,341.2 685.0,343.5 690.0,342.9 695.0,341.2 700.0,342.2 705.0,344.8 710.0,342.6 715.0,346.1 720.0,343.6 725.0,345.8 730.0,345.4 735.0,344.7 740.0,345.3 745.0,345.3 750.0,344.6 755.0,344.3 760.0,343.6 765.0,345.5 770.0,346.2 775.0,344.6 780.0,346.1 785.0,344.7 790.0,344.2 795.0,345.9 800.0,346.3 805.0,343.7 810.0,346.2 815.0,344.4 820.0,345.9 825.0,344.3 830.0,346.5 835.0,344.5 840.0,344.1 845.0,343.6 850.0,343.8 855.0,343.7 860.0,346.0 865.0,343.5 870.0,343.8 875.0,344.2 880.0,343.9 885.0,345.9 890.0,343.4 895.0,345.6 900.0,344.5 905.0,343.9 910.0,344.1 915.0,345.1 920.0,344.2 925.0,345.0 930.0,345.3 935.0,346.0 940.0,346.8 945.0,345.9 950.0,347.1 955.0,347.6 960.0,346.9 965.0,348.3 970.0,347.1" stroke="#333" stroke-width="1.15" vector-effect="non-scaling-stroke"/>
<polyline points="20.0,250.0 25.0,345.0 30.0,330.3 35.0,325.0 40.0,314.2 45.0,306.2 50.0,313.3 55.0,304.7 60.0,311.4 65.0,301.3 70.0,299.1 75.0,297.5 80.0,300.9 85.0,301.4 90.0,295.5 95.0,287.3 100.0,281.9 105.0,281.7 110.0,278.1 115.0,280.0 120.0,272.6 125.0,258.4 130.0,249.8 135.0,252.2 140.0,241.4 145.0,221.8 150.0,235.0 155.0,223.9 160.0,225.1 165.0,236.2 170.0,231.4 175.0,223.7 180.0,215.0 185.0,211.0 190.0,212.5 195.0,204.8 200.0,193.1 205.0,194.4 210.0,206.9 215.0,210.4 220.0,233.2 225.0,242.1 230.0,217.5 235.0,215.8 240.0,211.7 245.0,202.1 250.0,189.3 255.0,194.5 260.0,179.7 265.0,204.2 270.0,197.2 275.0,197.5 280.0,202.1 285.0,196.6 290.0,214.0 295.0,211.2 300.0,215.9 305.0,214.4 310.0,221.5 315.0,228.1 320.0,236.5 325.0,228.2 330.0,246.7 335.0,250.6 340.0,237.1 345.0,245.3 350.0,234.9 355.0,240.0 360.0,263.6 365.0,247.9 370.0,248.4 375.0,261.1 380.0,266.9 385.0,274.3 390.0,277.9 395.0,274.5 400.0,273.8 405.0,299.8 410.0,264.2 415.0,265.2 420.0,260.3 425.0,273.0 430.0,265.1 435.0,282.5 440.0,285.8 445.0,294.1 450.0,303.4 455.0,300.4 460.0,300.7 465.0,310.7 470.0,311.7 475.0,311.4 480.0,311.0 485.0,313.5 490.0,319.4 495.0,324.3 500.0,323.1 505.0,323.3 510.0,329.7 515.0,322.5 520.0,322.7 525.0,319.9 530.0,315.0 535.0,312.5 540.0,322.0 545.0,317.1 550.0,318.3 555.0,321.0 560.0,316.1 565.0,320.4 570.0,325.6 575.0,318.4 580.0,316.3 585.0,327.1 590.0,326.5 595.0,322.6 600.0,316.0 605.0,317.7 610.0,307.8 615.0,313.3 620.0,319.0 625.0,308.9 630.0,314.1 635.0,305.6 640.0,303.5 645.0,296.7 650.0,296.9 655.0,295.8 660.0,299.5 665.0,289.9 670.0,281.6 675.0,284.1 680.0,276.9 685.0,260.6 690.0,267.2 695.0,267.8 700.0,273.2 705.0,261.5 710.0,282.3 715.0,271.4 720.0,270.7 725.0,279.9 730.0,280.7 735.0,277.0 740.0,273.9 745.0,277.3 750.0,263.9 755.0,263.6 760.0,271.9 765.0,272.9 770.0,272.2 775.0,290.6 780.0,306.6 785.0,295.2 790.0,294.3 795.0,282.7 800.0,258.8 805.0,257.0 810.0,262.3 815.0,273.5 820.0,292.8 825.0,293.5 830.0,303.6 835.0,301.5 840.0,305.8 845.0,303.1 850.0,303.1 855.0,307.4 860.0,311.4 865.0,306.1 870.0,316.3 875.0,306.6 880.0,317.8 885.0,321.1 890.0,320.8 895.0,325.6 900.0,331.7 905.0,326.4 910.0,329.4 915.0,331.4 920.0,327.8 925.0,335.3 930.0,337.8 935.0,341.0 940.0,343.7 945.0,347.5 950.0,349.8 955.0,350.4 960.0,350.3 965.0,348.1 970.0,343.5 975.0,342.4 980.0,342.3 985.0,330.3 990.0,340.6 995.0,345.0 1000.0,347.3" stroke="#000" stroke-width="1.9" vector-effect="non-scaling-stroke"/>
</g>
<path d="M271.8 174.8H374.9V209.3" fill="none" stroke="#333" stroke-width="1"/>
<path d="M271.8 209.3H374.9" fill="none" stroke="#222" stroke-width="1.1"/>
<path d="M271.8 174.4V209.8" fill="none" stroke="#111" stroke-width="1.3"/>
<path d="M271.8 209.3v2M279.56 209.3v1.2M284.1 209.3v1.2M287.32 209.3v1.2M289.82 209.3v1.2M291.86 209.3v1.2M293.58 209.3v1.2M295.08 209.3v1.2M296.4 209.3v1.2M297.57 209.3v2M305.33 209.3v1.2M309.87 209.3v1.2M313.09 209.3v1.2M315.59 209.3v1.2M317.63 209.3v1.2M319.36 209.3v1.2M320.85 209.3v1.2M322.17 209.3v1.2M323.35 209.3v2M331.11 209.3v1.2M335.65 209.3v1.2M338.87 209.3v1.2M341.37 209.3v1.2M343.41 209.3v1.2M345.13 209.3v1.2M346.63 209.3v1.2M347.95 209.3v1.2M349.12 209.3v2M356.88 209.3v1.2M361.42 209.3v1.2M364.64 209.3v1.2M367.14 209.3v1.2M369.18 209.3v1.2M370.91 209.3v1.2M372.4 209.3v1.2M373.72 209.3v1.2M374.9 209.3v2" stroke="#333" stroke-width="0.6"/>
<text x="268.7" y="217.5" font-size="4.8" fill="#1a1a1a">10<tspan font-size="4.3" dx="0.3" dy="-2.7">0</tspan></text>
<text x="294.47" y="217.5" font-size="4.8" fill="#1a1a1a">10<tspan font-size="4.3" dx="0.3" dy="-2.7">1</tspan></text>
<text x="320.25" y="217.5" font-size="4.8" fill="#1a1a1a">10<tspan font-size="4.3" dx="0.3" dy="-2.7">2</tspan></text>
<text x="346.02" y="217.5" font-size="4.8" fill="#1a1a1a">10<tspan font-size="4.3" dx="0.3" dy="-2.7">3</tspan></text>
<text x="371.8" y="217.5" font-size="4.8" fill="#1a1a1a">10<tspan font-size="4.3" dx="0.3" dy="-2.7">4</tspan></text>
<text x="323.75" y="222.6" font-size="4.6" fill="#1a1a1a" text-anchor="middle">FL2-Height</text>
<text transform="translate(268.3 209.3) rotate(-90)" font-size="5" fill="#1a1a1a" text-anchor="middle">0</text>
<text transform="translate(268.3 200.68) rotate(-90)" font-size="5" fill="#1a1a1a" text-anchor="middle">10</text>
<text transform="translate(268.3 192.05) rotate(-90)" font-size="5" fill="#1a1a1a" text-anchor="middle">20</text>
<text transform="translate(268.3 183.43) rotate(-90)" font-size="5" fill="#1a1a1a" text-anchor="middle">30</text>
<text transform="translate(268.3 174.8) rotate(-90)" font-size="5" fill="#1a1a1a" text-anchor="middle">40</text>
<path d="M271.8 209.3h-1.6M271.8 200.68h-1.6M271.8 192.05h-1.6M271.8 183.43h-1.6M271.8 174.8h-1.6" stroke="#333" stroke-width="0.6"/>
<text transform="translate(263 192.4) rotate(-90)" font-size="4.7" fill="#1a1a1a" text-anchor="middle">Counts</text>
<g transform="translate(270 172) scale(0.10385)" fill="none" stroke-linejoin="round">
<polyline points="25.0,310.0 30.0,300.5 35.0,302.6 40.0,296.9 45.0,289.7 50.0,283.2 55.0,289.5 60.0,284.8 65.0,275.2 70.0,267.6 75.0,255.4 80.0,246.1 85.0,247.6 90.0,239.2 95.0,216.1 100.0,216.5 105.0,224.6 110.0,224.6 115.0,220.7 120.0,232.9 125.0,220.2 130.0,215.9 135.0,202.7 140.0,171.1 145.0,160.5 150.0,149.9 155.0,123.9 160.0,155.2 165.0,146.4 170.0,153.4 175.0,183.0 180.0,173.3 185.0,200.2 190.0,186.4 195.0,186.3 200.0,186.3 205.0,194.6 210.0,182.5 215.0,173.8 220.0,186.6 225.0,163.2 230.0,167.4 235.0,142.0 240.0,148.5 244.0,160.8 248.0,171.7 255.0,191.4 260.0,194.4 265.0,205.3 270.0,196.5 275.0,209.5 280.0,222.1 285.0,213.7 290.0,238.6 295.0,247.5 300.0,243.3 305.0,247.5 310.0,254.1 315.0,258.0 320.0,261.5 325.0,242.9 330.0,238.7 335.0,242.5 340.0,249.1 345.0,249.5 350.0,247.4 355.0,254.8 360.0,258.4 365.0,264.4 370.0,239.7 375.0,232.2 380.0,243.6 385.0,257.2 390.0,254.4 395.0,259.4 400.0,267.5 405.0,281.9 410.0,275.0 415.0,281.5 420.0,282.0 425.0,284.1 430.0,286.1 435.0,299.5 440.0,296.6 445.0,288.1 450.0,287.8 455.0,282.8 460.0,283.9 465.0,282.4 470.0,278.5 475.0,292.5 480.0,296.9 485.0,296.3 490.0,305.3 495.0,304.9 500.0,305.8 505.0,306.7 510.0,315.9 515.0,307.7 520.0,304.4 525.0,315.2 530.0,316.0 535.0,313.5 540.0,319.2 545.0,310.8 550.0,314.6 555.0,316.4 560.0,319.1 565.0,316.9 570.0,316.4 575.0,319.8 580.0,326.1 585.0,327.3 590.0,325.2 595.0,322.9 600.0,321.0 605.0,328.4 610.0,324.5 615.0,326.8 620.0,320.5 625.0,322.3 630.0,328.2 635.0,327.8 640.0,328.6 645.0,326.0 650.0,324.3 655.0,325.8 660.0,328.3 665.0,323.2 670.0,325.3 675.0,323.2 680.0,328.1 685.0,321.4 690.0,327.9 695.0,330.6 700.0,322.6 705.0,327.9 710.0,328.7 715.0,330.7 720.0,328.7 725.0,326.0 730.0,327.4 735.0,332.2 740.0,331.8 745.0,325.4 750.0,325.2 755.0,325.3 760.0,324.9 765.0,328.5 770.0,326.1 775.0,332.1 780.0,330.5 785.0,326.3 790.0,329.7 795.0,328.1 800.0,329.6 805.0,327.5 810.0,327.1 815.0,327.4 820.0,329.0 825.0,331.7 830.0,330.6 835.0,326.8 840.0,332.0 845.0,333.4 850.0,332.7 855.0,332.9 860.0,327.0 865.0,330.6 870.0,327.7 875.0,333.1 880.0,328.8 885.0,332.9 890.0,329.6 895.0,333.0 900.0,330.2 905.0,328.3 910.0,331.0 915.0,330.5 920.0,334.9 925.0,330.7 930.0,332.4 935.0,332.9 940.0,335.9 945.0,330.1 950.0,333.8 955.0,333.4 960.0,335.1 965.0,336.8 970.0,332.6 975.0,335.4 980.0,334.4 985.0,334.8 990.0,331.8 995.0,336.8 1000.0,338.0" stroke="#333" stroke-width="1.15" vector-effect="non-scaling-stroke"/>
<polyline points="20.0,255.0 25.0,343.7 30.0,301.2 35.0,303.6 40.0,315.4 45.0,306.5 50.0,300.3 55.0,303.7 60.0,291.9 65.0,297.6 70.0,288.8 75.0,290.2 80.0,292.2 85.0,282.4 90.0,271.7 95.0,272.7 100.0,256.9 105.0,266.3 110.0,276.0 115.0,264.4 120.0,249.1 125.0,239.9 130.0,237.0 135.0,236.1 140.0,227.4 145.0,241.2 150.0,233.0 155.0,228.1 160.0,218.4 165.0,206.1 170.0,177.8 175.0,191.9 180.0,208.9 185.0,222.2 190.0,232.3 195.0,238.2 200.0,222.7 205.0,227.8 210.0,239.6 215.0,220.1 220.0,230.2 225.0,241.2 230.0,240.6 235.0,234.5 240.0,279.1 245.0,268.6 250.0,246.1 255.0,258.8 260.0,252.8 265.0,257.4 270.0,261.4 275.0,260.2 280.0,260.4 285.0,246.7 290.0,244.3 295.0,252.3 300.0,259.6 305.0,272.4 310.0,276.0 315.0,272.8 320.0,283.0 325.0,291.9 330.0,300.2 335.0,296.5 340.0,291.2 345.0,292.0 350.0,282.3 355.0,291.4 360.0,291.7 365.0,296.1 370.0,298.3 375.0,297.5 380.0,287.8 385.0,296.6 390.0,300.0 395.0,308.1 400.0,307.8 405.0,302.9 410.0,308.6 415.0,318.2 420.0,315.4 425.0,321.8 430.0,309.3 435.0,312.3 440.0,305.9 445.0,306.4 450.0,293.1 455.0,287.2 460.0,280.1 465.0,266.3 470.0,277.1 475.0,286.2 480.0,286.7 485.0,290.4 490.0,305.1 495.0,291.4 500.0,301.6 505.0,289.0 510.0,293.9 515.0,291.0 520.0,292.0 525.0,294.0 530.0,287.9 535.0,301.2 540.0,306.5 545.0,301.6 550.0,295.3 555.0,291.1 560.0,293.3 565.0,293.9 570.0,298.2 575.0,292.6 580.0,300.8 585.0,298.6 590.0,291.0 595.0,295.9 600.0,299.3 605.0,295.8 610.0,282.7 615.0,294.9 620.0,296.1 625.0,294.8 630.0,281.3 635.0,282.1 640.0,283.3 645.0,276.7 650.0,259.2 655.0,294.0 660.0,296.2 665.0,298.3 670.0,292.7 675.0,283.9 680.0,289.7 685.0,305.4 690.0,287.7 695.0,285.6 700.0,291.1 705.0,298.6 710.0,295.3 715.0,303.6 720.0,292.3 725.0,284.3 730.0,293.2 735.0,300.4 740.0,295.0 745.0,293.4 750.0,300.8 755.0,298.6 760.0,307.3 765.0,293.3 770.0,301.2 775.0,307.9 780.0,295.7 785.0,295.1 790.0,298.5 795.0,305.3 800.0,308.6 805.0,308.3 810.0,313.7 815.0,310.4 820.0,310.1 825.0,298.8 830.0,302.9 835.0,311.2 840.0,293.4 845.0,300.9 850.0,299.8 855.0,309.2 860.0,313.3 865.0,304.1 870.0,313.1 875.0,312.2 880.0,308.0 885.0,321.0 890.0,303.9 895.0,307.6 900.0,300.0 905.0,306.5 910.0,301.5 915.0,305.9 920.0,309.3 925.0,317.7 930.0,316.3 935.0,321.2 940.0,323.7 945.0,320.5 950.0,322.7 955.0,317.5 960.0,316.6 965.0,322.1 970.0,317.6 975.0,322.9 980.0,323.0 985.0,325.9 990.0,320.7 995.0,320.9 1000.0,315.3 1005.0,301.9 1010.0,226.5" stroke="#000" stroke-width="1.9" vector-effect="non-scaling-stroke"/>
</g>
<path d="M413 174.8H516.2V209.3" fill="none" stroke="#333" stroke-width="1"/>
<path d="M413 209.3H516.2" fill="none" stroke="#222" stroke-width="1.1"/>
<path d="M413 174.4V209.8" fill="none" stroke="#111" stroke-width="1.3"/>
<path d="M413 209.3v2M420.77 209.3v1.2M425.31 209.3v1.2M428.53 209.3v1.2M431.03 209.3v1.2M433.08 209.3v1.2M434.8 209.3v1.2M436.3 209.3v1.2M437.62 209.3v1.2M438.8 209.3v2M446.57 209.3v1.2M451.11 209.3v1.2M454.33 209.3v1.2M456.83 209.3v1.2M458.88 209.3v1.2M460.6 209.3v1.2M462.1 209.3v1.2M463.42 209.3v1.2M464.6 209.3v2M472.37 209.3v1.2M476.91 209.3v1.2M480.13 209.3v1.2M482.63 209.3v1.2M484.68 209.3v1.2M486.4 209.3v1.2M487.9 209.3v1.2M489.22 209.3v1.2M490.4 209.3v2M498.17 209.3v1.2M502.71 209.3v1.2M505.93 209.3v1.2M508.43 209.3v1.2M510.48 209.3v1.2M512.2 209.3v1.2M513.7 209.3v1.2M515.02 209.3v1.2M516.2 209.3v2" stroke="#333" stroke-width="0.6"/>
<text x="409.9" y="217.5" font-size="4.8" fill="#1a1a1a">10<tspan font-size="4.3" dx="0.3" dy="-2.7">0</tspan></text>
<text x="435.7" y="217.5" font-size="4.8" fill="#1a1a1a">10<tspan font-size="4.3" dx="0.3" dy="-2.7">1</tspan></text>
<text x="461.5" y="217.5" font-size="4.8" fill="#1a1a1a">10<tspan font-size="4.3" dx="0.3" dy="-2.7">2</tspan></text>
<text x="487.3" y="217.5" font-size="4.8" fill="#1a1a1a">10<tspan font-size="4.3" dx="0.3" dy="-2.7">3</tspan></text>
<text x="513.1" y="217.5" font-size="4.8" fill="#1a1a1a">10<tspan font-size="4.3" dx="0.3" dy="-2.7">4</tspan></text>
<text x="465" y="222.6" font-size="4.6" fill="#1a1a1a" text-anchor="middle">FL2-Height</text>
<text transform="translate(409.5 209.3) rotate(-90)" font-size="5" fill="#1a1a1a" text-anchor="middle">0</text>
<text transform="translate(409.5 200.68) rotate(-90)" font-size="5" fill="#1a1a1a" text-anchor="middle">10</text>
<text transform="translate(409.5 192.05) rotate(-90)" font-size="5" fill="#1a1a1a" text-anchor="middle">20</text>
<text transform="translate(409.5 183.43) rotate(-90)" font-size="5" fill="#1a1a1a" text-anchor="middle">30</text>
<text transform="translate(409.5 174.8) rotate(-90)" font-size="5" fill="#1a1a1a" text-anchor="middle">40</text>
<path d="M413 209.3h-1.6M413 200.68h-1.6M413 192.05h-1.6M413 183.43h-1.6M413 174.8h-1.6" stroke="#333" stroke-width="0.6"/>
<text transform="translate(404.2 192.4) rotate(-90)" font-size="4.7" fill="#1a1a1a" text-anchor="middle">Counts</text>
<g transform="translate(411 172) scale(0.10385)" fill="none" stroke-linejoin="round">
<polyline points="25.0,300.0 30.0,292.0 35.0,264.0 40.0,272.5 45.0,297.4 50.0,290.5 55.0,294.7 60.0,299.6 65.0,292.8 70.0,293.4 75.0,275.8 80.0,282.4 85.0,267.0 90.0,256.8 95.0,248.4 100.0,214.1 105.0,224.2 110.0,224.4 115.0,202.6 120.0,213.6 125.0,202.1 130.0,190.6 135.0,180.0 140.0,188.7 145.0,162.2 150.0,152.4 154.0,142.9 158.0,143.5 165.0,156.8 170.0,170.2 175.0,177.8 180.0,171.5 185.0,191.3 190.0,183.0 195.0,201.6 200.0,203.2 205.0,193.6 210.0,186.6 215.0,207.5 220.0,186.6 225.0,156.8 230.0,142.8 235.0,145.9 242.0,116.3 246.0,159.3 250.0,165.2 255.0,172.9 260.0,177.8 265.0,186.4 270.0,195.1 275.0,187.9 280.0,197.1 285.0,206.9 290.0,205.5 295.0,219.5 300.0,225.9 305.0,228.7 310.0,238.4 315.0,238.1 320.0,232.0 325.0,252.0 330.0,242.3 335.0,238.7 340.0,233.1 345.0,248.3 350.0,253.5 355.0,235.2 360.0,222.9 365.0,224.4 370.0,247.7 375.0,241.4 380.0,255.8 385.0,254.8 390.0,257.0 395.0,260.0 400.0,259.7 405.0,259.7 410.0,270.6 415.0,277.4 420.0,277.4 425.0,272.7 430.0,283.1 435.0,270.3 440.0,273.6 445.0,275.5 450.0,272.2 455.0,274.4 460.0,290.3 465.0,287.5 470.0,290.4 475.0,293.7 480.0,302.1 485.0,301.0 490.0,299.6 495.0,305.6 500.0,306.9 505.0,305.6 510.0,313.7 515.0,319.0 520.0,321.2 525.0,327.0 530.0,320.4 535.0,321.5 540.0,319.6 545.0,317.2 550.0,316.4 555.0,323.1 560.0,321.3 565.0,320.4 570.0,319.0 575.0,328.8 580.0,323.6 585.0,320.6 590.0,320.7 595.0,320.3 600.0,325.8 605.0,319.5 610.0,321.3 615.0,320.3 620.0,324.7 625.0,320.9 630.0,320.9 635.0,323.7 640.0,324.7 645.0,324.8 650.0,317.8 655.0,322.5 660.0,328.3 665.0,319.7 670.0,320.6 675.0,322.6 680.0,320.8 685.0,325.3 690.0,325.7 695.0,323.9 700.0,322.6 705.0,321.6 710.0,321.2 715.0,318.3 720.0,323.7 725.0,317.9 730.0,325.2 735.0,322.1 740.0,315.1 745.0,322.5 750.0,326.0 755.0,323.5 760.0,329.9 765.0,327.7 770.0,334.4 775.0,330.4 780.0,335.8 785.0,339.1 790.0,339.4 795.0,337.4 800.0,340.2 805.0,338.9 810.0,340.3 815.0,343.0 820.0,343.3 825.0,340.3 830.0,342.1 835.0,343.4 840.0,342.0 845.0,344.6 850.0,345.2 855.0,344.3 860.0,343.9 865.0,345.8 870.0,345.0" stroke="#333" stroke-width="1.15" vector-effect="non-scaling-stroke"/>
<polyline points="20.0,245.0 25.0,340.0 30.0,311.3 35.0,276.9 40.0,296.4 45.0,303.2 50.0,308.5 55.0,309.5 60.0,309.5 65.0,303.3 70.0,298.8 75.0,289.3 80.0,296.8 85.0,306.6 90.0,295.8 95.0,288.2 100.0,287.0 105.0,274.4 110.0,272.2 115.0,274.7 120.0,264.5 125.0,258.0 130.0,263.5 135.0,250.4 140.0,236.6 145.0,216.3 150.0,217.1 155.0,204.9 160.0,184.8 165.0,185.9 172.0,168.2 176.0,178.5 180.0,198.6 185.0,192.6 190.0,211.0 195.0,209.2 200.0,207.4 205.0,211.5 210.0,225.1 215.0,222.3 220.0,214.9 225.0,225.0 230.0,208.1 235.0,198.0 240.0,194.6 245.0,180.4 250.0,184.1 255.0,192.8 260.0,199.1 265.0,204.6 270.0,206.3 275.0,216.7 280.0,222.2 285.0,210.5 290.0,227.7 295.0,236.2 300.0,244.7 305.0,242.9 310.0,248.8 315.0,247.6 320.0,256.4 325.0,252.0 330.0,240.3 335.0,254.0 340.0,257.2 345.0,258.1 350.0,255.4 355.0,272.6 360.0,275.1 365.0,279.6 370.0,275.9 375.0,277.4 380.0,280.2 385.0,285.7 390.0,287.6 395.0,296.1 400.0,293.6 405.0,299.7 410.0,283.4 415.0,285.9 420.0,290.8 425.0,290.0 430.0,297.5 435.0,302.4 440.0,301.9 445.0,298.0 450.0,298.9 455.0,306.7 460.0,293.7 465.0,300.3 470.0,299.7 475.0,307.6 480.0,308.1 485.0,303.0 490.0,307.4 495.0,309.9 500.0,311.4 505.0,316.8 510.0,320.9 515.0,309.7 520.0,288.8 525.0,297.8 530.0,302.3 535.0,303.0 540.0,295.6 545.0,295.8 550.0,295.0 555.0,292.6 560.0,299.8 565.0,285.4 570.0,293.5 575.0,299.4 580.0,288.6 585.0,286.8 590.0,284.7 595.0,294.7 600.0,296.6 605.0,299.6 610.0,296.6 615.0,292.8 620.0,289.8 625.0,288.4 630.0,288.6 635.0,286.9 640.0,300.8 645.0,287.9 650.0,297.1 655.0,294.6 660.0,293.5 665.0,293.4 670.0,300.3 675.0,302.3 680.0,289.0 685.0,291.8 690.0,299.7 695.0,307.4 700.0,300.9 705.0,301.1 710.0,296.8 715.0,295.7 720.0,299.7 725.0,305.5 730.0,311.7 735.0,310.2 740.0,307.2 745.0,305.6 750.0,296.3 755.0,306.9 760.0,317.7 765.0,314.3 770.0,323.7 775.0,315.9 780.0,326.2 785.0,323.2 790.0,322.4 795.0,321.0 800.0,320.7 805.0,317.4 810.0,317.6 815.0,321.2 820.0,329.4 825.0,329.8 830.0,328.8 835.0,332.5 840.0,330.0 845.0,331.0 850.0,334.7 855.0,335.6 860.0,340.5 865.0,337.0 870.0,341.3 875.0,339.2 880.0,343.8 885.0,343.0 890.0,343.9 895.0,342.6 900.0,340.5 905.0,344.5 910.0,345.1 915.0,344.9 920.0,345.7 925.0,345.6 930.0,344.8 935.0,344.3 940.0,344.2 945.0,345.2 950.0,344.4 955.0,345.4 960.0,344.3 965.0,342.8 970.0,344.8 975.0,343.2 980.0,342.2 985.0,343.6 990.0,345.1 995.0,344.4 1000.0,344.4" stroke="#000" stroke-width="1.9" vector-effect="non-scaling-stroke"/>
</g>
<path d="M130.8 250.1H234.1V284.6" fill="none" stroke="#333" stroke-width="1"/>
<path d="M130.8 284.6H234.1" fill="none" stroke="#222" stroke-width="1.1"/>
<path d="M130.8 249.7V285.1" fill="none" stroke="#111" stroke-width="1.6"/>
<path d="M130.8 284.6v2M138.57 284.6v1.2M143.12 284.6v1.2M146.35 284.6v1.2M148.85 284.6v1.2M150.9 284.6v1.2M152.62 284.6v1.2M154.12 284.6v1.2M155.44 284.6v1.2M156.62 284.6v2M164.4 284.6v1.2M168.95 284.6v1.2M172.17 284.6v1.2M174.68 284.6v1.2M176.72 284.6v1.2M178.45 284.6v1.2M179.95 284.6v1.2M181.27 284.6v1.2M182.45 284.6v2M190.22 284.6v1.2M194.77 284.6v1.2M198 284.6v1.2M200.5 284.6v1.2M202.55 284.6v1.2M204.27 284.6v1.2M205.77 284.6v1.2M207.09 284.6v1.2M208.28 284.6v2M216.05 284.6v1.2M220.6 284.6v1.2M223.82 284.6v1.2M226.33 284.6v1.2M228.37 284.6v1.2M230.1 284.6v1.2M231.6 284.6v1.2M232.92 284.6v1.2M234.1 284.6v2" stroke="#333" stroke-width="0.6"/>
<text x="127.7" y="292.8" font-size="4.8" fill="#1a1a1a">10<tspan font-size="4.3" dx="0.3" dy="-2.7">0</tspan></text>
<text x="153.53" y="292.8" font-size="4.8" fill="#1a1a1a">10<tspan font-size="4.3" dx="0.3" dy="-2.7">1</tspan></text>
<text x="179.35" y="292.8" font-size="4.8" fill="#1a1a1a">10<tspan font-size="4.3" dx="0.3" dy="-2.7">2</tspan></text>
<text x="205.18" y="292.8" font-size="4.8" fill="#1a1a1a">10<tspan font-size="4.3" dx="0.3" dy="-2.7">3</tspan></text>
<text x="231" y="292.8" font-size="4.8" fill="#1a1a1a">10<tspan font-size="4.3" dx="0.3" dy="-2.7">4</tspan></text>
<text x="182.85" y="297.9" font-size="4.6" fill="#1a1a1a" text-anchor="middle">FL2-Height</text>
<text transform="translate(127.3 284.6) rotate(-90)" font-size="5" fill="#1a1a1a" text-anchor="middle">0</text>
<text transform="translate(127.3 277.7) rotate(-90)" font-size="5" fill="#1a1a1a" text-anchor="middle">10</text>
<text transform="translate(127.3 270.8) rotate(-90)" font-size="5" fill="#1a1a1a" text-anchor="middle">20</text>
<text transform="translate(127.3 263.9) rotate(-90)" font-size="5" fill="#1a1a1a" text-anchor="middle">30</text>
<text transform="translate(127.3 257) rotate(-90)" font-size="5" fill="#1a1a1a" text-anchor="middle">40</text>
<text transform="translate(127.3 250.1) rotate(-90)" font-size="5" fill="#1a1a1a" text-anchor="middle">50</text>
<path d="M130.8 284.6h-1.6M130.8 277.7h-1.6M130.8 270.8h-1.6M130.8 263.9h-1.6M130.8 257h-1.6M130.8 250.1h-1.6" stroke="#333" stroke-width="0.6"/>
<text transform="translate(122 268.4) rotate(-90)" font-size="4.4" fill="#1a1a1a" text-anchor="middle">Counts</text>
<g transform="translate(129 247) scale(0.10385)" fill="none" stroke-linejoin="round">
<polyline points="25.0,320.0 30.0,320.4 35.0,317.7 40.0,317.7 45.0,326.5 50.0,319.5 55.0,317.3 60.0,316.3 65.0,316.8 70.0,323.3 75.0,319.6 80.0,316.4 85.0,306.9 90.0,288.7 95.0,278.5 100.0,266.9 105.0,266.0 110.0,246.9 115.0,238.5 120.0,210.8 125.0,174.0 130.0,151.0 135.0,117.4 140.0,105.6 145.0,119.5 150.0,100.6 155.0,88.9 160.0,62.3 165.0,46.5 170.0,40.2 175.0,74.0 180.0,77.2 185.0,119.8 190.0,144.8 195.0,168.7 200.0,179.7 205.0,189.2 210.0,164.4 215.0,194.1 220.0,211.0 225.0,235.5 230.0,243.3 235.0,264.4 240.0,264.1 245.0,275.4 250.0,275.1 255.0,287.2 260.0,287.7 265.0,295.4 270.0,301.5 275.0,300.3 280.0,299.2 285.0,315.7 290.0,315.8 295.0,309.7 300.0,312.3 305.0,320.4 310.0,317.3 315.0,322.7 320.0,329.2 325.0,331.4 330.0,333.8 335.0,337.1 340.0,337.6 345.0,339.6 350.0,341.4 355.0,344.1 360.0,346.2 365.0,347.8 370.0,349.1 375.0,349.5 380.0,350.0" stroke="#333" stroke-width="1.15" vector-effect="non-scaling-stroke"/>
<polyline points="25.0,60.0 30.0,320.2 35.0,322.9 40.0,331.9 45.0,330.1 50.0,326.4 55.0,317.6 60.0,317.1 65.0,323.5 70.0,333.8 75.0,333.6 80.0,335.2 85.0,329.0 90.0,315.7 95.0,317.3 100.0,312.0 105.0,301.1 110.0,298.0 115.0,298.8 120.0,306.4 125.0,295.7 130.0,288.2 135.0,292.2 140.0,285.7 145.0,267.3 150.0,264.0 155.0,258.8 160.0,237.9 165.0,235.8 170.0,226.0 175.0,218.5 180.0,210.8 185.0,183.7 190.0,151.9 195.0,137.8 200.0,98.5 205.0,116.2 210.0,87.7 215.0,78.7 220.0,68.2 224.0,42.7 228.0,32.7 235.0,31.9 240.0,77.9 245.0,107.6 250.0,107.3 255.0,112.5 260.0,147.3 265.0,153.1 270.0,156.8 275.0,168.4 280.0,174.0 285.0,189.0 290.0,204.9 295.0,200.5 300.0,218.7 305.0,230.4 310.0,252.4 315.0,266.8 320.0,265.3 325.0,274.3 330.0,287.7 335.0,298.2 340.0,304.3 345.0,313.9 350.0,317.0 355.0,327.7 360.0,332.8 365.0,340.4 370.0,344.4 375.0,347.3 380.0,348.0 385.0,348.2 390.0,350.2 395.0,348.7 400.0,347.9 405.0,347.7 410.0,349.3 415.0,349.1 420.0,349.3 425.0,349.4 430.0,348.4 435.0,348.4 440.0,347.3 445.0,346.6 450.0,345.5 455.0,344.8 460.0,346.1 465.0,345.3 470.0,347.2 475.0,348.9 480.0,349.5 485.0,349.5 490.0,349.6 495.0,350.6 500.0,350.6 505.0,350.2 510.0,349.3 515.0,349.5 520.0,350.4 520.0,349.7 525.0,350.0 530.0,350.8 535.0,352.0 540.0,351.7 545.0,352.3 550.0,351.6 555.0,352.1 560.0,352.2 565.0,351.6 570.0,351.9 575.0,352.4 580.0,352.4 585.0,352.1 590.0,351.7 595.0,351.9 600.0,351.8 605.0,352.1 610.0,351.7 615.0,352.2 620.0,352.2 625.0,351.9 630.0,351.9 635.0,352.3 640.0,351.7 645.0,352.0 650.0,351.6 655.0,351.6 660.0,352.0 665.0,351.7 670.0,351.8 675.0,351.8 680.0,351.7 685.0,351.9 690.0,351.8 695.0,352.4 700.0,352.3 705.0,352.0 710.0,351.7 715.0,352.4 720.0,351.8 725.0,351.5 730.0,352.2 735.0,351.7 740.0,352.4 745.0,351.9 750.0,351.5 755.0,352.2 760.0,351.9 765.0,351.7 770.0,351.6 775.0,352.1 780.0,351.6 785.0,351.7 790.0,351.8 795.0,352.0 800.0,351.9 805.0,352.2 810.0,352.3 815.0,352.4 820.0,351.8 825.0,352.2 830.0,352.3 835.0,352.0 840.0,352.1 845.0,352.2 850.0,352.0 855.0,352.0 860.0,352.5 865.0,351.9 870.0,351.6 875.0,351.9 880.0,351.7 885.0,352.2 890.0,352.0 895.0,352.0 900.0,352.3 905.0,352.2 910.0,351.7 915.0,352.4 920.0,352.5 925.0,351.7 930.0,351.6 935.0,351.7 940.0,352.1 945.0,351.9 950.0,352.4 955.0,352.0 960.0,351.8 965.0,351.7 970.0,352.1 975.0,351.6 980.0,352.1 985.0,351.8 990.0,352.2 995.0,352.0 1000.0,351.9" stroke="#000" stroke-width="1.9" vector-effect="non-scaling-stroke"/>
</g>
<path d="M271.8 250.1H374.9V284.6" fill="none" stroke="#333" stroke-width="1"/>
<path d="M271.8 284.6H374.9" fill="none" stroke="#222" stroke-width="1.1"/>
<path d="M271.8 249.7V285.1" fill="none" stroke="#111" stroke-width="1.6"/>
<path d="M271.8 284.6v2M279.56 284.6v1.2M284.1 284.6v1.2M287.32 284.6v1.2M289.82 284.6v1.2M291.86 284.6v1.2M293.58 284.6v1.2M295.08 284.6v1.2M296.4 284.6v1.2M297.57 284.6v2M305.33 284.6v1.2M309.87 284.6v1.2M313.09 284.6v1.2M315.59 284.6v1.2M317.63 284.6v1.2M319.36 284.6v1.2M320.85 284.6v1.2M322.17 284.6v1.2M323.35 284.6v2M331.11 284.6v1.2M335.65 284.6v1.2M338.87 284.6v1.2M341.37 284.6v1.2M343.41 284.6v1.2M345.13 284.6v1.2M346.63 284.6v1.2M347.95 284.6v1.2M349.12 284.6v2M356.88 284.6v1.2M361.42 284.6v1.2M364.64 284.6v1.2M367.14 284.6v1.2M369.18 284.6v1.2M370.91 284.6v1.2M372.4 284.6v1.2M373.72 284.6v1.2M374.9 284.6v2" stroke="#333" stroke-width="0.6"/>
<text x="268.7" y="292.8" font-size="4.8" fill="#1a1a1a">10<tspan font-size="4.3" dx="0.3" dy="-2.7">0</tspan></text>
<text x="294.47" y="292.8" font-size="4.8" fill="#1a1a1a">10<tspan font-size="4.3" dx="0.3" dy="-2.7">1</tspan></text>
<text x="320.25" y="292.8" font-size="4.8" fill="#1a1a1a">10<tspan font-size="4.3" dx="0.3" dy="-2.7">2</tspan></text>
<text x="346.02" y="292.8" font-size="4.8" fill="#1a1a1a">10<tspan font-size="4.3" dx="0.3" dy="-2.7">3</tspan></text>
<text x="371.8" y="292.8" font-size="4.8" fill="#1a1a1a">10<tspan font-size="4.3" dx="0.3" dy="-2.7">4</tspan></text>
<text x="323.75" y="297.9" font-size="4.6" fill="#1a1a1a" text-anchor="middle">FL2-Height</text>
<text transform="translate(268.3 284.6) rotate(-90)" font-size="5" fill="#1a1a1a" text-anchor="middle">0</text>
<text transform="translate(268.3 277.7) rotate(-90)" font-size="5" fill="#1a1a1a" text-anchor="middle">10</text>
<text transform="translate(268.3 270.8) rotate(-90)" font-size="5" fill="#1a1a1a" text-anchor="middle">20</text>
<text transform="translate(268.3 263.9) rotate(-90)" font-size="5" fill="#1a1a1a" text-anchor="middle">30</text>
<text transform="translate(268.3 257) rotate(-90)" font-size="5" fill="#1a1a1a" text-anchor="middle">40</text>
<text transform="translate(268.3 250.1) rotate(-90)" font-size="5" fill="#1a1a1a" text-anchor="middle">50</text>
<path d="M271.8 284.6h-1.6M271.8 277.7h-1.6M271.8 270.8h-1.6M271.8 263.9h-1.6M271.8 257h-1.6M271.8 250.1h-1.6" stroke="#333" stroke-width="0.6"/>
<text transform="translate(263 268.4) rotate(-90)" font-size="4.4" fill="#1a1a1a" text-anchor="middle">Counts</text>
<g transform="translate(270 247) scale(0.10385)" fill="none" stroke-linejoin="round">
<polyline points="30.0,300.0 35.0,297.1 40.0,302.4 45.0,309.9 50.0,317.3 55.0,316.0 60.0,321.3 65.0,319.8 70.0,322.8 75.0,313.3 80.0,318.0 85.0,312.1 90.0,300.1 95.0,298.0 100.0,289.2 105.0,278.6 110.0,278.3 115.0,247.7 120.0,230.7 125.0,229.3 130.0,197.8 135.0,162.3 140.0,135.2 145.0,121.0 150.0,124.1 155.0,85.6 160.0,70.4 165.0,68.0 170.0,51.7 174.0,59.3 178.0,47.8 185.0,54.9 185.0,90.5 190.0,130.1 195.0,125.2 200.0,74.6 205.0,87.9 205.0,131.1 210.0,173.9 215.0,188.4 220.0,214.1 225.0,224.9 230.0,223.8 235.0,242.7 240.0,244.8 245.0,252.0 250.0,262.2 255.0,267.2 260.0,273.3 265.0,282.3 270.0,299.8 275.0,304.0 280.0,306.6 285.0,311.7 290.0,313.8 295.0,310.0 300.0,310.9 305.0,319.0 310.0,320.5 315.0,324.3 320.0,321.2 325.0,324.8 330.0,333.3 335.0,333.2 340.0,336.2 345.0,335.3 350.0,339.5 355.0,344.1 360.0,345.5" stroke="#333" stroke-width="1.15" vector-effect="non-scaling-stroke"/>
<polyline points="24.0,65.0 28.0,178.0 32.0,303.8 36.0,304.6 40.0,317.6 45.0,324.0 50.0,333.1 55.0,326.2 60.0,325.9 65.0,324.0 70.0,327.4 75.0,333.9 80.0,335.3 85.0,338.7 90.0,339.7 95.0,337.4 100.0,333.1 105.0,330.5 110.0,326.5 115.0,321.9 120.0,319.5 125.0,316.2 130.0,313.1 135.0,302.0 140.0,294.7 145.0,283.7 150.0,261.8 155.0,266.8 160.0,249.9 165.0,233.7 170.0,211.3 175.0,192.0 180.0,169.3 185.0,128.4 190.0,109.2 195.0,65.6 200.0,69.9 205.0,115.5 210.0,84.1 215.0,49.5 220.0,58.2 225.0,105.3 230.0,59.7 235.0,31.9 240.0,95.4 245.0,99.7 250.0,141.0 255.0,105.2 260.0,148.3 265.0,165.8 270.0,191.7 275.0,188.9 280.0,196.6 285.0,207.0 290.0,217.8 295.0,234.3 300.0,246.1 305.0,242.0 310.0,253.6 315.0,268.5 320.0,278.3 325.0,289.9 330.0,284.7 335.0,302.0 340.0,304.3 345.0,297.2 350.0,306.9 355.0,320.8 360.0,327.0 365.0,335.1 370.0,339.1 375.0,343.6 380.0,344.1 385.0,346.4 390.0,347.2 395.0,345.9 400.0,346.4 405.0,348.7 410.0,349.5 415.0,351.2 420.0,351.5 425.0,351.3 430.0,350.9 435.0,350.1 440.0,349.3 445.0,350.7 450.0,351.5 455.0,351.2 460.0,351.9 465.0,351.8 470.0,351.3 475.0,350.8 480.0,349.7 485.0,351.1 490.0,351.4 495.0,351.8 500.0,352.1 505.0,351.7 510.0,352.4 515.0,352.1 520.0,352.0 520.0,350.3 525.0,350.1 530.0,348.8 535.0,348.5 540.0,348.5 545.0,347.7 550.0,348.6 555.0,347.0 560.0,347.8 565.0,347.5 570.0,347.5 575.0,347.3 580.0,346.3 585.0,345.0 590.0,346.8 595.0,345.7 600.0,345.0 605.0,347.3 610.0,348.2 615.0,348.9 620.0,349.8 625.0,349.6 630.0,349.4 635.0,349.4 640.0,349.4 645.0,350.4 650.0,349.6 655.0,350.5 660.0,349.9 665.0,349.8 670.0,350.9 675.0,350.1 680.0,349.7 685.0,350.6 690.0,350.6 695.0,351.0 700.0,350.8 705.0,350.3 710.0,350.6 715.0,350.0 720.0,350.3 725.0,350.5 730.0,350.2 735.0,351.1 740.0,351.0 745.0,350.5 750.0,351.1 755.0,350.6 760.0,350.3 765.0,350.4 770.0,350.3 775.0,351.1 780.0,350.6 785.0,350.3 790.0,350.3 795.0,350.9 800.0,351.4 805.0,350.6 810.0,351.4 815.0,351.4 820.0,350.5 825.0,350.8 830.0,351.6 835.0,351.4 840.0,351.3 845.0,350.6 850.0,350.9 855.0,351.5 860.0,350.8 865.0,350.9 870.0,350.8 875.0,351.3 880.0,351.0 885.0,351.7 890.0,350.9 895.0,351.6 900.0,351.9 905.0,351.2 910.0,351.4 915.0,351.8 920.0,351.2 925.0,351.6 930.0,351.2 935.0,351.5 940.0,351.6 945.0,351.2 950.0,352.1 955.0,351.6 960.0,351.3 965.0,351.4 970.0,351.6 975.0,351.4 980.0,352.1 985.0,351.6 990.0,351.9 995.0,351.9 1000.0,351.7 1005.0,352.1 1010.0,351.9" stroke="#000" stroke-width="1.9" vector-effect="non-scaling-stroke"/>
</g>
<path d="M413 250.1H516.2V284.6" fill="none" stroke="#333" stroke-width="1"/>
<path d="M413 284.6H516.2" fill="none" stroke="#222" stroke-width="1.1"/>
<path d="M413 249.7V285.1" fill="none" stroke="#111" stroke-width="1.6"/>
<path d="M413 284.6v2M420.77 284.6v1.2M425.31 284.6v1.2M428.53 284.6v1.2M431.03 284.6v1.2M433.08 284.6v1.2M434.8 284.6v1.2M436.3 284.6v1.2M437.62 284.6v1.2M438.8 284.6v2M446.57 284.6v1.2M451.11 284.6v1.2M454.33 284.6v1.2M456.83 284.6v1.2M458.88 284.6v1.2M460.6 284.6v1.2M462.1 284.6v1.2M463.42 284.6v1.2M464.6 284.6v2M472.37 284.6v1.2M476.91 284.6v1.2M480.13 284.6v1.2M482.63 284.6v1.2M484.68 284.6v1.2M486.4 284.6v1.2M487.9 284.6v1.2M489.22 284.6v1.2M490.4 284.6v2M498.17 284.6v1.2M502.71 284.6v1.2M505.93 284.6v1.2M508.43 284.6v1.2M510.48 284.6v1.2M512.2 284.6v1.2M513.7 284.6v1.2M515.02 284.6v1.2M516.2 284.6v2" stroke="#333" stroke-width="0.6"/>
<text x="409.9" y="292.8" font-size="4.8" fill="#1a1a1a">10<tspan font-size="4.3" dx="0.3" dy="-2.7">0</tspan></text>
<text x="435.7" y="292.8" font-size="4.8" fill="#1a1a1a">10<tspan font-size="4.3" dx="0.3" dy="-2.7">1</tspan></text>
<text x="461.5" y="292.8" font-size="4.8" fill="#1a1a1a">10<tspan font-size="4.3" dx="0.3" dy="-2.7">2</tspan></text>
<text x="487.3" y="292.8" font-size="4.8" fill="#1a1a1a">10<tspan font-size="4.3" dx="0.3" dy="-2.7">3</tspan></text>
<text x="513.1" y="292.8" font-size="4.8" fill="#1a1a1a">10<tspan font-size="4.3" dx="0.3" dy="-2.7">4</tspan></text>
<text x="465" y="297.9" font-size="4.6" fill="#1a1a1a" text-anchor="middle">FL2-Height</text>
<text transform="translate(409.5 284.6) rotate(-90)" font-size="5" fill="#1a1a1a" text-anchor="middle">0</text>
<text transform="translate(409.5 277.7) rotate(-90)" font-size="5" fill="#1a1a1a" text-anchor="middle">10</text>
<text transform="translate(409.5 270.8) rotate(-90)" font-size="5" fill="#1a1a1a" text-anchor="middle">20</text>
<text transform="translate(409.5 263.9) rotate(-90)" font-size="5" fill="#1a1a1a" text-anchor="middle">30</text>
<text transform="translate(409.5 257) rotate(-90)" font-size="5" fill="#1a1a1a" text-anchor="middle">40</text>
<text transform="translate(409.5 250.1) rotate(-90)" font-size="5" fill="#1a1a1a" text-anchor="middle">50</text>
<path d="M413 284.6h-1.6M413 277.7h-1.6M413 270.8h-1.6M413 263.9h-1.6M413 257h-1.6M413 250.1h-1.6" stroke="#333" stroke-width="0.6"/>
<text transform="translate(404.2 268.4) rotate(-90)" font-size="4.4" fill="#1a1a1a" text-anchor="middle">Counts</text>
<g transform="translate(411 247) scale(0.10385)" fill="none" stroke-linejoin="round">
<polyline points="30.0,305.0 35.0,306.0 40.0,314.7 45.0,317.8 50.0,326.2 55.0,320.0 60.0,320.6 65.0,310.0 70.0,312.1 75.0,313.0 80.0,305.3 85.0,306.2 90.0,300.5 95.0,283.0 100.0,266.9 105.0,264.5 110.0,237.9 115.0,217.5 120.0,215.1 125.0,195.8 130.0,173.8 135.0,152.9 140.0,105.9 145.0,81.4 150.0,62.0 155.0,79.4 160.0,35.9 164.0,31.9 168.0,31.9 172.0,31.9 176.0,31.9 182.0,70.0 187.0,89.2 192.0,119.3 197.0,152.2 202.0,146.0 207.0,178.1 212.0,190.8 217.0,199.1 222.0,211.7 227.0,226.7 232.0,233.7 237.0,234.8 242.0,244.8 247.0,248.3 252.0,256.2 257.0,273.3 262.0,270.8 267.0,273.2 272.0,287.7 277.0,294.6 282.0,291.2 287.0,294.0 292.0,283.9 297.0,289.7 302.0,304.2 307.0,301.0 312.0,309.5 317.0,313.5 322.0,314.4 327.0,314.9 332.0,316.9 337.0,329.3 342.0,329.6 347.0,333.6 352.0,331.9 357.0,337.9 362.0,339.9 367.0,340.6 372.0,342.1" stroke="#333" stroke-width="1.15" vector-effect="non-scaling-stroke"/>
<polyline points="24.0,95.0 30.0,308.9 35.0,313.8 40.0,324.4 45.0,326.6 50.0,323.2 55.0,326.1 60.0,325.1 65.0,321.5 70.0,309.0 75.0,318.7 80.0,306.9 85.0,309.0 90.0,295.4 95.0,291.1 100.0,278.4 105.0,268.2 110.0,255.0 115.0,239.4 120.0,222.1 125.0,201.3 130.0,173.1 135.0,145.9 140.0,128.5 145.0,103.9 150.0,90.0 155.0,63.4 160.0,71.4 164.0,59.4 168.0,31.9 175.0,41.3 180.0,71.7 185.0,98.4 190.0,129.1 195.0,140.0 200.0,154.6 205.0,175.0 210.0,171.4 215.0,182.3 220.0,200.2 225.0,214.5 230.0,222.5 235.0,228.5 240.0,244.7 245.0,256.6 250.0,260.0 255.0,261.7 260.0,276.2 265.0,278.9 270.0,286.2 275.0,280.9 280.0,287.3 285.0,285.7 290.0,278.6 295.0,290.5 300.0,301.4 305.0,299.4 310.0,307.0 315.0,316.0 320.0,313.7 325.0,319.3 330.0,316.2 335.0,319.5 340.0,327.7 345.0,329.8 350.0,326.9 355.0,333.4 360.0,336.7 365.0,338.9 370.0,341.2 375.0,342.3 380.0,341.5 385.0,343.9 390.0,344.3 395.0,345.1 400.0,345.8 405.0,346.8 410.0,347.1 415.0,347.7 420.0,347.1 425.0,348.2 430.0,346.2 435.0,346.8 440.0,343.7 445.0,346.0 450.0,346.5 455.0,348.4 460.0,348.6 465.0,347.3 470.0,347.1 475.0,345.6 480.0,346.4 485.0,344.8 490.0,347.7 495.0,348.3 500.0,347.5 505.0,349.0 510.0,349.6 515.0,349.9 520.0,350.7 520.0,350.1 525.0,349.8 530.0,350.5 535.0,349.6 540.0,349.7 545.0,349.9 550.0,348.5 555.0,348.7 560.0,349.3 565.0,348.5 570.0,349.4 575.0,348.7 580.0,349.4 585.0,348.3 590.0,347.6 595.0,348.5 600.0,347.1 605.0,349.4 610.0,349.8 615.0,350.8 620.0,351.7 625.0,352.0 630.0,352.2 635.0,352.2 640.0,352.3 645.0,352.0 650.0,352.2 655.0,352.0 660.0,351.5 665.0,351.9 670.0,352.2 675.0,351.6 680.0,351.6 685.0,352.4 690.0,352.2 695.0,351.8 700.0,351.8 705.0,352.4 710.0,352.1 715.0,352.0 720.0,352.2 725.0,352.4 730.0,351.6 735.0,351.7 740.0,351.6 745.0,352.4 750.0,351.6 755.0,351.6 760.0,352.4 765.0,351.7 770.0,351.5 775.0,352.5 780.0,352.2 785.0,351.9 790.0,352.3 795.0,352.4 800.0,351.6 805.0,352.1 810.0,352.3 815.0,352.4 820.0,352.3 825.0,352.2 830.0,352.2 835.0,352.0 840.0,352.4 845.0,351.7 850.0,352.0 855.0,351.6 860.0,352.3 865.0,352.3 870.0,352.0 875.0,352.0 880.0,352.4 885.0,351.9 890.0,352.1 895.0,352.3 900.0,351.6 905.0,351.8 910.0,351.9 915.0,352.1 920.0,351.9 925.0,351.5 930.0,351.7 935.0,352.1 940.0,352.0 945.0,352.5 950.0,352.4 955.0,351.7 960.0,352.3 965.0,351.6 970.0,351.5 975.0,352.3 980.0,352.3 985.0,352.3 990.0,352.4 995.0,351.6 1000.0,352.1 1005.0,351.7 1010.0,351.6" stroke="#000" stroke-width="1.9" vector-effect="non-scaling-stroke"/>
</g>
<path d="M130.8 316.3H234.1V350.8" fill="none" stroke="#333" stroke-width="1"/>
<path d="M130.8 350.8H234.1" fill="none" stroke="#222" stroke-width="1.1"/>
<path d="M130.8 315.9V351.3" fill="none" stroke="#111" stroke-width="1.6"/>
<path d="M130.8 350.8v2M138.57 350.8v1.2M143.12 350.8v1.2M146.35 350.8v1.2M148.85 350.8v1.2M150.9 350.8v1.2M152.62 350.8v1.2M154.12 350.8v1.2M155.44 350.8v1.2M156.62 350.8v2M164.4 350.8v1.2M168.95 350.8v1.2M172.17 350.8v1.2M174.68 350.8v1.2M176.72 350.8v1.2M178.45 350.8v1.2M179.95 350.8v1.2M181.27 350.8v1.2M182.45 350.8v2M190.22 350.8v1.2M194.77 350.8v1.2M198 350.8v1.2M200.5 350.8v1.2M202.55 350.8v1.2M204.27 350.8v1.2M205.77 350.8v1.2M207.09 350.8v1.2M208.28 350.8v2M216.05 350.8v1.2M220.6 350.8v1.2M223.82 350.8v1.2M226.33 350.8v1.2M228.37 350.8v1.2M230.1 350.8v1.2M231.6 350.8v1.2M232.92 350.8v1.2M234.1 350.8v2" stroke="#333" stroke-width="0.6"/>
<text x="127.7" y="359" font-size="4.8" fill="#1a1a1a">10<tspan font-size="4.3" dx="0.3" dy="-2.7">0</tspan></text>
<text x="153.53" y="359" font-size="4.8" fill="#1a1a1a">10<tspan font-size="4.3" dx="0.3" dy="-2.7">1</tspan></text>
<text x="179.35" y="359" font-size="4.8" fill="#1a1a1a">10<tspan font-size="4.3" dx="0.3" dy="-2.7">2</tspan></text>
<text x="205.18" y="359" font-size="4.8" fill="#1a1a1a">10<tspan font-size="4.3" dx="0.3" dy="-2.7">3</tspan></text>
<text x="231" y="359" font-size="4.8" fill="#1a1a1a">10<tspan font-size="4.3" dx="0.3" dy="-2.7">4</tspan></text>
<text x="182.85" y="364.1" font-size="4.6" fill="#1a1a1a" text-anchor="middle">FL2-Height</text>
<text transform="translate(127.3 350.8) rotate(-90)" font-size="5" fill="#1a1a1a" text-anchor="middle">0</text>
<text transform="translate(127.3 320) rotate(-90)" font-size="5" fill="#1a1a1a" text-anchor="middle">20</text>
<path d="M130.8 350.8h-1.6M130.8 320h-1.6M130.8 347.72h-1M130.8 344.64h-1M130.8 341.56h-1M130.8 338.48h-1M130.8 335.4h-1M130.8 332.32h-1M130.8 329.24h-1M130.8 326.16h-1M130.8 323.08h-1M130.8 320h-1" stroke="#333" stroke-width="0.6"/>
<text transform="translate(122 334.6) rotate(-90)" font-size="4.4" fill="#1a1a1a" text-anchor="middle">Counts</text>
<g transform="translate(129 313) scale(0.10385)" fill="none" stroke-linejoin="round">
<polyline points="25.0,280.0 30.0,276.8 35.0,281.1 40.0,264.8 45.0,266.4 50.0,268.1 55.0,253.0 60.0,230.2 65.0,221.9 70.0,211.1 75.0,178.5 80.0,152.7 85.0,160.9 90.0,129.5 95.0,134.1 100.0,121.1 105.0,103.8 110.0,86.0 115.0,84.5 120.0,88.5 125.0,41.1 128.0,57.4 132.0,68.0 138.0,110.4 145.0,149.4 150.0,170.2 155.0,185.6 160.0,232.8 165.0,256.3 170.0,254.2 175.0,269.4 180.0,262.9 185.0,264.2 190.0,267.0 195.0,271.9 200.0,285.1 205.0,284.4 210.0,299.7 215.0,305.5 220.0,306.2 225.0,319.3 230.0,320.9 235.0,330.7 240.0,333.3 245.0,335.5 250.0,335.2 255.0,340.5 260.0,339.3 265.0,343.4 270.0,343.4 275.0,343.7 280.0,346.5 285.0,346.4 290.0,345.5 295.0,348.1 300.0,347.5 305.0,348.6 310.0,349.1 315.0,350.0 320.0,349.3 325.0,349.3 330.0,349.4 335.0,349.8 340.0,350.5 345.0,350.8 350.0,350.5 355.0,351.8 360.0,351.7 365.0,351.5 370.0,352.0 375.0,352.4 380.0,352.4 385.0,351.9 390.0,352.3 395.0,351.7 400.0,351.7 405.0,352.7 410.0,352.7 415.0,352.7 420.0,353.1 425.0,353.6 430.0,353.6 435.0,354.0 440.0,354.5 445.0,354.7 450.0,355.0" stroke="#333" stroke-width="1.15" vector-effect="non-scaling-stroke"/>
<polyline points="24.0,280.0 28.0,341.3 35.0,343.7 40.0,341.6 45.0,340.1 50.0,340.7 55.0,345.7 60.0,346.4 65.0,349.5 70.0,348.0 75.0,346.1 80.0,342.1 85.0,342.3 90.0,341.9 95.0,338.7 100.0,335.8 105.0,337.1 110.0,329.2 115.0,324.6 120.0,304.2 125.0,300.7 130.0,296.0 135.0,294.9 140.0,295.5 145.0,292.3 150.0,282.1 155.0,290.6 160.0,285.0 165.0,283.9 170.0,283.9 175.0,287.5 180.0,287.2 185.0,280.0 190.0,277.1 195.0,275.5 200.0,281.1 205.0,284.7 212.0,300.2 218.0,288.9 225.0,275.0 230.0,264.1 235.0,270.7 240.0,257.8 245.0,261.0 250.0,254.4 255.0,246.9 260.0,246.6 265.0,234.5 270.0,228.7 275.0,217.3 280.0,214.6 285.0,192.4 292.0,173.8 296.0,191.5 300.0,204.0 305.0,205.2 310.0,186.3 314.0,181.9 318.0,177.7 325.0,207.2 330.0,219.4 335.0,222.4 340.0,236.6 345.0,228.6 350.0,244.9 355.0,246.0 360.0,245.6 365.0,251.7 370.0,259.7 375.0,258.9 380.0,280.4 385.0,274.6 390.0,282.8 395.0,295.8 400.0,302.2 405.0,301.9 410.0,307.4 415.0,314.5 420.0,326.2 425.0,331.4 430.0,330.6 435.0,334.1 440.0,336.6 445.0,340.2 450.0,341.9 455.0,344.3 460.0,346.2 465.0,348.6 470.0,349.5 475.0,350.7 480.0,352.0 485.0,353.3 490.0,355.0 495.0,355.8 500.0,356.5 505.0,357.2 510.0,358.0 515.0,358.0 520.0,358.0 525.0,357.5 530.0,357.0 535.0,356.5 540.0,356.0 545.0,355.5 550.0,355.0 555.0,356.5 560.0,358.0 565.0,358.0 570.0,358.0 575.0,358.0 580.0,358.0 585.0,358.0 590.0,358.0 595.0,358.0 600.0,358.0 605.0,358.0 610.0,358.0 615.0,358.0 620.0,358.0 625.0,358.0 630.0,358.0 635.0,358.0 640.0,358.0 645.0,358.0 650.0,358.0 655.0,358.0 660.0,358.0 665.0,358.0 670.0,358.0 675.0,358.0 680.0,358.0 685.0,358.0 690.0,358.0 695.0,358.0 700.0,358.0 705.0,358.0 710.0,358.0 715.0,358.0 720.0,358.0 725.0,358.0 730.0,358.0 735.0,358.0 740.0,358.0 745.0,358.0 750.0,358.0 755.0,358.0 760.0,358.0 765.0,358.0 770.0,358.0 775.0,358.0 780.0,358.0 785.0,358.0 790.0,358.0 795.0,358.0 800.0,358.0 805.0,358.0 810.0,358.0 815.0,358.0 820.0,358.0 825.0,358.0 830.0,358.0 835.0,358.0 840.0,358.0 845.0,358.0 850.0,358.0 855.0,358.0 860.0,358.0 865.0,358.0 870.0,358.0 875.0,358.0 880.0,358.0 885.0,358.0 890.0,358.0 895.0,358.0 900.0,358.0 905.0,358.0 910.0,358.0 915.0,358.0 920.0,358.0 925.0,358.0 930.0,358.0 935.0,358.0 940.0,358.0 945.0,358.0 950.0,358.0 955.0,358.0 960.0,358.0 965.0,358.0 970.0,358.0 975.0,358.0 980.0,358.0 985.0,358.0 990.0,358.0 995.0,358.0 1000.0,358.0" stroke="#000" stroke-width="1.9" vector-effect="non-scaling-stroke"/>
</g>
<path d="M271.8 316.3H374.9V350.8" fill="none" stroke="#333" stroke-width="1"/>
<path d="M271.8 350.8H374.9" fill="none" stroke="#222" stroke-width="1.1"/>
<path d="M271.8 315.9V351.3" fill="none" stroke="#111" stroke-width="1.6"/>
<path d="M271.8 350.8v2M279.56 350.8v1.2M284.1 350.8v1.2M287.32 350.8v1.2M289.82 350.8v1.2M291.86 350.8v1.2M293.58 350.8v1.2M295.08 350.8v1.2M296.4 350.8v1.2M297.57 350.8v2M305.33 350.8v1.2M309.87 350.8v1.2M313.09 350.8v1.2M315.59 350.8v1.2M317.63 350.8v1.2M319.36 350.8v1.2M320.85 350.8v1.2M322.17 350.8v1.2M323.35 350.8v2M331.11 350.8v1.2M335.65 350.8v1.2M338.87 350.8v1.2M341.37 350.8v1.2M343.41 350.8v1.2M345.13 350.8v1.2M346.63 350.8v1.2M347.95 350.8v1.2M349.12 350.8v2M356.88 350.8v1.2M361.42 350.8v1.2M364.64 350.8v1.2M367.14 350.8v1.2M369.18 350.8v1.2M370.91 350.8v1.2M372.4 350.8v1.2M373.72 350.8v1.2M374.9 350.8v2" stroke="#333" stroke-width="0.6"/>
<text x="268.7" y="359" font-size="4.8" fill="#1a1a1a">10<tspan font-size="4.3" dx="0.3" dy="-2.7">0</tspan></text>
<text x="294.47" y="359" font-size="4.8" fill="#1a1a1a">10<tspan font-size="4.3" dx="0.3" dy="-2.7">1</tspan></text>
<text x="320.25" y="359" font-size="4.8" fill="#1a1a1a">10<tspan font-size="4.3" dx="0.3" dy="-2.7">2</tspan></text>
<text x="346.02" y="359" font-size="4.8" fill="#1a1a1a">10<tspan font-size="4.3" dx="0.3" dy="-2.7">3</tspan></text>
<text x="371.8" y="359" font-size="4.8" fill="#1a1a1a">10<tspan font-size="4.3" dx="0.3" dy="-2.7">4</tspan></text>
<text x="323.75" y="364.1" font-size="4.6" fill="#1a1a1a" text-anchor="middle">FL2-Height</text>
<text transform="translate(268.3 350.8) rotate(-90)" font-size="5" fill="#1a1a1a" text-anchor="middle">0</text>
<text transform="translate(268.3 343.9) rotate(-90)" font-size="5" fill="#1a1a1a" text-anchor="middle">10</text>
<text transform="translate(268.3 337) rotate(-90)" font-size="5" fill="#1a1a1a" text-anchor="middle">20</text>
<text transform="translate(268.3 330.1) rotate(-90)" font-size="5" fill="#1a1a1a" text-anchor="middle">30</text>
<text transform="translate(268.3 323.2) rotate(-90)" font-size="5" fill="#1a1a1a" text-anchor="middle">40</text>
<text transform="translate(268.3 316.3) rotate(-90)" font-size="5" fill="#1a1a1a" text-anchor="middle">50</text>
<path d="M271.8 350.8h-1.6M271.8 343.9h-1.6M271.8 337h-1.6M271.8 330.1h-1.6M271.8 323.2h-1.6M271.8 316.3h-1.6" stroke="#333" stroke-width="0.6"/>
<text transform="translate(263 334.6) rotate(-90)" font-size="4.4" fill="#1a1a1a" text-anchor="middle">Counts</text>
<g transform="translate(270 313) scale(0.10385)" fill="none" stroke-linejoin="round">
<polyline points="30.0,260.0 35.0,252.9 40.0,245.0 45.0,238.7 50.0,248.0 55.0,231.6 60.0,224.0 65.0,206.2 70.0,187.2 75.0,175.9 80.0,152.1 85.0,138.2 90.0,115.0 95.0,110.8 100.0,88.0 105.0,58.0 110.0,37.2 115.0,43.4 120.0,37.9 125.0,45.8 130.0,59.3 135.0,54.7 140.0,99.3 145.0,105.9 150.0,160.1 155.0,188.4 160.0,198.6 165.0,222.3 170.0,234.7 175.0,230.2 180.0,248.2 185.0,245.6 190.0,267.3 195.0,270.7 200.0,282.8 205.0,275.6 210.0,287.3 215.0,296.7 220.0,301.5 224.0,300.7 228.0,315.1 235.0,319.4 240.0,315.2 245.0,316.1 250.0,322.8 255.0,321.0 260.0,325.1 265.0,324.9 270.0,324.0 275.0,320.5 280.0,323.2 285.0,327.6 290.0,330.9 295.0,329.4 300.0,334.2 305.0,335.3 310.0,338.3 315.0,337.9 320.0,337.0 325.0,337.2 330.0,337.9 335.0,339.0 340.0,343.5 345.0,344.2 350.0,344.4 355.0,342.9 360.0,345.5 365.0,344.7 370.0,347.5 375.0,347.6 380.0,348.6 385.0,348.7 390.0,348.8 395.0,350.1 400.0,350.7" stroke="#333" stroke-width="1.15" vector-effect="non-scaling-stroke"/>
<polyline points="24.0,60.0 28.0,330.1 35.0,337.8 40.0,334.5 45.0,322.0 50.0,331.6 55.0,331.9 60.0,330.9 65.0,330.5 70.0,336.2 75.0,341.9 80.0,337.0 85.0,333.5 90.0,336.7 95.0,341.1 100.0,334.7 105.0,322.0 110.0,341.1 115.0,336.7 120.0,333.3 125.0,334.2 130.0,328.1 135.0,327.9 140.0,322.7 145.0,320.1 150.0,316.3 155.0,319.3 160.0,313.9 165.0,318.2 170.0,321.8 175.0,315.7 180.0,310.5 185.0,306.8 190.0,299.1 195.0,289.2 200.0,286.8 205.0,279.8 210.0,277.0 215.0,273.3 220.0,259.4 224.0,243.1 228.0,227.2 232.0,211.7 238.0,253.5 245.0,230.5 250.0,210.0 255.0,207.6 260.0,173.9 265.0,165.3 272.0,136.7 276.0,148.7 280.0,163.0 284.0,159.1 288.0,145.0 295.0,119.9 300.0,123.2 305.0,155.3 310.0,158.2 315.0,177.7 320.0,174.3 325.0,178.3 330.0,185.6 335.0,179.8 340.0,191.4 345.0,186.5 350.0,204.4 355.0,217.8 360.0,217.8 365.0,220.0 370.0,236.4 375.0,243.1 380.0,246.1 385.0,247.5 390.0,247.1 395.0,248.9 400.0,263.3 405.0,267.9 410.0,281.5 415.0,292.8 420.0,292.3 425.0,306.2 430.0,306.4 435.0,308.1 440.0,322.1 445.0,323.6 450.0,321.0 455.0,328.0 460.0,332.1 465.0,329.3 470.0,338.1 475.0,339.5 480.0,339.6 485.0,344.4 490.0,346.4 495.0,345.2 500.0,347.0 505.0,349.2 510.0,349.6 515.0,350.1 520.0,349.6 525.0,350.2 530.0,350.5 535.0,351.2 540.0,351.9 545.0,349.5 550.0,347.0 555.0,350.5 560.0,352.0 565.0,352.4 570.0,352.0 575.0,352.2 580.0,351.9 585.0,351.7 590.0,352.4 595.0,351.8 600.0,351.7 605.0,352.0 610.0,352.3 615.0,351.8 620.0,351.8 625.0,351.6 630.0,352.5 635.0,352.5 640.0,352.2 645.0,352.1 650.0,351.7 655.0,352.4 660.0,352.0 665.0,352.1 670.0,351.8 675.0,351.7 680.0,351.8 685.0,351.7 690.0,352.1 695.0,352.0 700.0,351.7 705.0,352.2 710.0,352.3 715.0,352.2 720.0,351.9 725.0,352.3 730.0,352.3 735.0,351.7 740.0,352.2 745.0,351.7 750.0,351.9 755.0,352.3 760.0,352.4 765.0,352.0 770.0,351.7 775.0,352.0 780.0,351.6 785.0,352.4 790.0,352.3 795.0,352.4 800.0,351.9 805.0,352.1 810.0,351.6 815.0,351.5 820.0,351.6 825.0,351.6 830.0,352.2 835.0,352.0 840.0,352.0 845.0,351.8 850.0,351.5 855.0,351.9 860.0,351.7 865.0,351.7 870.0,352.3 875.0,351.9 880.0,352.2 885.0,351.6 890.0,352.1 895.0,352.0 900.0,352.0 905.0,351.7 910.0,352.1 915.0,352.4 920.0,352.3 925.0,352.0 930.0,352.0 935.0,352.4 940.0,352.3 945.0,351.6 950.0,351.7 955.0,352.2 960.0,352.4 965.0,352.1 970.0,351.7 975.0,351.9 980.0,352.4 985.0,352.1 990.0,351.9 995.0,351.7 1000.0,351.8 1005.0,352.4 1010.0,352.3" stroke="#000" stroke-width="1.9" vector-effect="non-scaling-stroke"/>
</g>
<path d="M413 316.3H516.2V350.8" fill="none" stroke="#333" stroke-width="1"/>
<path d="M413 350.8H516.2" fill="none" stroke="#222" stroke-width="1.1"/>
<path d="M413 315.9V351.3" fill="none" stroke="#111" stroke-width="1.6"/>
<path d="M413 350.8v2M420.77 350.8v1.2M425.31 350.8v1.2M428.53 350.8v1.2M431.03 350.8v1.2M433.08 350.8v1.2M434.8 350.8v1.2M436.3 350.8v1.2M437.62 350.8v1.2M438.8 350.8v2M446.57 350.8v1.2M451.11 350.8v1.2M454.33 350.8v1.2M456.83 350.8v1.2M458.88 350.8v1.2M460.6 350.8v1.2M462.1 350.8v1.2M463.42 350.8v1.2M464.6 350.8v2M472.37 350.8v1.2M476.91 350.8v1.2M480.13 350.8v1.2M482.63 350.8v1.2M484.68 350.8v1.2M486.4 350.8v1.2M487.9 350.8v1.2M489.22 350.8v1.2M490.4 350.8v2M498.17 350.8v1.2M502.71 350.8v1.2M505.93 350.8v1.2M508.43 350.8v1.2M510.48 350.8v1.2M512.2 350.8v1.2M513.7 350.8v1.2M515.02 350.8v1.2M516.2 350.8v2" stroke="#333" stroke-width="0.6"/>
<text x="409.9" y="359" font-size="4.8" fill="#1a1a1a">10<tspan font-size="4.3" dx="0.3" dy="-2.7">0</tspan></text>
<text x="435.7" y="359" font-size="4.8" fill="#1a1a1a">10<tspan font-size="4.3" dx="0.3" dy="-2.7">1</tspan></text>
<text x="461.5" y="359" font-size="4.8" fill="#1a1a1a">10<tspan font-size="4.3" dx="0.3" dy="-2.7">2</tspan></text>
<text x="487.3" y="359" font-size="4.8" fill="#1a1a1a">10<tspan font-size="4.3" dx="0.3" dy="-2.7">3</tspan></text>
<text x="513.1" y="359" font-size="4.8" fill="#1a1a1a">10<tspan font-size="4.3" dx="0.3" dy="-2.7">4</tspan></text>
<text x="465" y="364.1" font-size="4.6" fill="#1a1a1a" text-anchor="middle">FL2-Height</text>
<text transform="translate(409.5 350.8) rotate(-90)" font-size="5" fill="#1a1a1a" text-anchor="middle">0</text>
<text transform="translate(409.5 319.44) rotate(-90)" font-size="5" fill="#1a1a1a" text-anchor="middle">10</text>
<path d="M413 350.8h-1.6M413 319.44h-1.6M413 347.66h-1M413 344.53h-1M413 341.39h-1M413 338.25h-1M413 335.12h-1M413 331.98h-1M413 328.85h-1M413 325.71h-1M413 322.57h-1M413 319.44h-1" stroke="#333" stroke-width="0.6"/>
<text transform="translate(404.2 334.6) rotate(-90)" font-size="4.4" fill="#1a1a1a" text-anchor="middle">Counts</text>
<g transform="translate(411 313) scale(0.10385)" fill="none" stroke-linejoin="round">
<polyline points="30.0,270.0 35.0,269.9 40.0,256.9 45.0,256.1 50.0,250.0 55.0,247.0 60.0,233.6 65.0,218.6 70.0,180.1 75.0,163.0 80.0,126.7 85.0,121.8 90.0,120.2 95.0,90.1 100.0,80.1 105.0,65.3 110.0,81.5 115.0,80.8 120.0,78.1 125.0,41.8 130.0,42.5 135.0,100.0 140.0,126.0 145.0,135.5 150.0,150.9 155.0,186.5 160.0,186.1 165.0,201.0 170.0,221.8 175.0,249.1 180.0,256.9 185.0,267.8 190.0,273.8 195.0,275.6 200.0,287.5 205.0,285.7 210.0,295.7 215.0,307.0 220.0,311.5 225.0,319.6 230.0,320.9 235.0,326.9 240.0,326.4 245.0,330.6 250.0,333.7 255.0,335.2 260.0,338.7 265.0,340.9 270.0,344.3 275.0,346.9 280.0,347.7 285.0,348.2 290.0,348.5 295.0,349.1 300.0,350.7" stroke="#333" stroke-width="1.15" vector-effect="non-scaling-stroke"/>
<polyline points="24.0,100.0 28.0,320.9 35.0,336.1 40.0,337.4 45.0,339.9 50.0,341.9 55.0,346.1 60.0,344.2 65.0,343.7 70.0,345.1 75.0,347.1 80.0,348.8 85.0,347.3 90.0,345.3 95.0,345.0 100.0,343.7 105.0,345.2 110.0,346.0 115.0,348.2 120.0,348.0 125.0,348.0 130.0,347.3 135.0,344.6 140.0,343.8 145.0,347.0 150.0,345.2 155.0,347.1 160.0,348.7 165.0,346.6 170.0,347.2 175.0,346.9 180.0,346.1 185.0,345.2 190.0,345.9 195.0,346.9 200.0,347.0 205.0,346.1 210.0,345.8 215.0,344.8 220.0,345.7 225.0,343.2 230.0,340.7 235.0,340.4 240.0,338.2 245.0,336.6 250.0,338.5 255.0,337.7 260.0,338.9 265.0,335.8 270.0,335.7 275.0,334.6 280.0,333.4 285.0,334.2 290.0,330.1 295.0,331.9 300.0,328.3 305.0,324.3 310.0,324.9 315.0,326.9 320.0,318.3 325.0,317.6 330.0,318.4 335.0,304.6 340.0,298.3 345.0,307.6 350.0,305.3 355.0,296.8 360.0,294.5 365.0,291.0 370.0,283.5 375.0,282.5 380.0,275.5 385.0,273.3 390.0,265.8 395.0,249.3 400.0,254.5 405.0,244.7 410.0,254.2 415.0,239.0 420.0,249.4 425.0,245.2 430.0,226.0 435.0,218.8 440.0,220.4 445.0,191.4 450.0,134.4 455.0,118.4 460.0,197.3 465.0,175.6 470.0,177.2 475.0,166.7 480.0,158.7 485.0,159.7 490.0,136.9 495.0,150.3 500.0,159.4 505.0,157.3 510.0,175.4 515.0,189.5 520.0,178.9 525.0,189.7 530.0,209.1 535.0,214.4 540.0,217.7 545.0,229.8 550.0,235.8 555.0,251.6 560.0,246.3 565.0,267.7 570.0,265.6 575.0,273.6 580.0,279.1 585.0,291.1 590.0,297.6 595.0,303.3 600.0,319.9 605.0,314.6 610.0,329.6 615.0,328.2 620.0,334.2 625.0,338.8 630.0,341.2 635.0,345.7 640.0,347.4 645.0,349.4 650.0,349.6 655.0,350.9 660.0,352.0 665.0,351.7 670.0,352.4 675.0,351.5 680.0,350.0 685.0,351.6 690.0,351.7 695.0,352.2 700.0,353.2 705.0,353.4 710.0,354.0 715.0,354.4 720.0,355.0 725.0,355.0 730.0,355.0 735.0,355.0 740.0,355.0 745.0,355.0 750.0,355.0 755.0,355.0 760.0,355.0 765.0,355.0 770.0,355.0 775.0,355.0 780.0,355.0 785.0,355.0 790.0,355.0 795.0,355.0 800.0,355.0 805.0,355.0 810.0,355.0 815.0,355.0 820.0,355.0 825.0,355.0 830.0,355.0 835.0,355.0 840.0,355.0 845.0,355.0 850.0,355.0 855.0,355.0 860.0,355.0 865.0,355.0 870.0,355.0 875.0,355.0 880.0,355.0 885.0,355.0 890.0,355.0 895.0,355.0 900.0,355.0 905.0,355.0 910.0,355.0 915.0,355.0 920.0,355.0 925.0,355.0 930.0,355.0 935.0,355.0 940.0,355.0 945.0,355.0 950.0,355.0 955.0,355.0 960.0,355.0 965.0,355.0 970.0,355.0 975.0,355.0 980.0,355.0 985.0,355.0 990.0,355.0 995.0,355.0 1000.0,355.0" stroke="#000" stroke-width="1.9" vector-effect="non-scaling-stroke"/>
</g>
<path d="M130.8 382.3H234.1V416.8" fill="none" stroke="#333" stroke-width="1"/>
<path d="M130.8 416.8H234.1" fill="none" stroke="#222" stroke-width="1.1"/>
<path d="M130.8 381.9V417.3" fill="none" stroke="#111" stroke-width="1.6"/>
<path d="M130.8 416.8v2M138.57 416.8v1.2M143.12 416.8v1.2M146.35 416.8v1.2M148.85 416.8v1.2M150.9 416.8v1.2M152.62 416.8v1.2M154.12 416.8v1.2M155.44 416.8v1.2M156.62 416.8v2M164.4 416.8v1.2M168.95 416.8v1.2M172.17 416.8v1.2M174.68 416.8v1.2M176.72 416.8v1.2M178.45 416.8v1.2M179.95 416.8v1.2M181.27 416.8v1.2M182.45 416.8v2M190.22 416.8v1.2M194.77 416.8v1.2M198 416.8v1.2M200.5 416.8v1.2M202.55 416.8v1.2M204.27 416.8v1.2M205.77 416.8v1.2M207.09 416.8v1.2M208.28 416.8v2M216.05 416.8v1.2M220.6 416.8v1.2M223.82 416.8v1.2M226.33 416.8v1.2M228.37 416.8v1.2M230.1 416.8v1.2M231.6 416.8v1.2M232.92 416.8v1.2M234.1 416.8v2" stroke="#333" stroke-width="0.6"/>
<text x="127.7" y="425" font-size="4.8" fill="#1a1a1a">10<tspan font-size="4.3" dx="0.3" dy="-2.7">0</tspan></text>
<text x="153.53" y="425" font-size="4.8" fill="#1a1a1a">10<tspan font-size="4.3" dx="0.3" dy="-2.7">1</tspan></text>
<text x="179.35" y="425" font-size="4.8" fill="#1a1a1a">10<tspan font-size="4.3" dx="0.3" dy="-2.7">2</tspan></text>
<text x="205.18" y="425" font-size="4.8" fill="#1a1a1a">10<tspan font-size="4.3" dx="0.3" dy="-2.7">3</tspan></text>
<text x="231" y="425" font-size="4.8" fill="#1a1a1a">10<tspan font-size="4.3" dx="0.3" dy="-2.7">4</tspan></text>
<text x="182.85" y="430.1" font-size="4.6" fill="#1a1a1a" text-anchor="middle">FL2-Height</text>
<text transform="translate(127.3 416.8) rotate(-90)" font-size="5" fill="#1a1a1a" text-anchor="middle">0</text>
<text transform="translate(127.3 409.9) rotate(-90)" font-size="5" fill="#1a1a1a" text-anchor="middle">10</text>
<text transform="translate(127.3 403) rotate(-90)" font-size="5" fill="#1a1a1a" text-anchor="middle">20</text>
<text transform="translate(127.3 396.1) rotate(-90)" font-size="5" fill="#1a1a1a" text-anchor="middle">30</text>
<text transform="translate(127.3 389.2) rotate(-90)" font-size="5" fill="#1a1a1a" text-anchor="middle">40</text>
<text transform="translate(127.3 382.3) rotate(-90)" font-size="5" fill="#1a1a1a" text-anchor="middle">50</text>
<path d="M130.8 416.8h-1.6M130.8 409.9h-1.6M130.8 403h-1.6M130.8 396.1h-1.6M130.8 389.2h-1.6M130.8 382.3h-1.6" stroke="#333" stroke-width="0.6"/>
<text transform="translate(122 400.6) rotate(-90)" font-size="4.4" fill="#1a1a1a" text-anchor="middle">Counts</text>
<g transform="translate(129 379) scale(0.10385)" fill="none" stroke-linejoin="round">
<polyline points="24.0,280.0 29.5,290.0 35.0,296.7 40.0,306.9 45.0,306.6 50.0,312.2 55.0,320.9 60.0,311.5 65.0,315.9 70.0,316.2 75.0,304.6 80.0,295.2 85.0,294.8 90.3,284.4 95.7,260.2 101.0,244.3 106.0,236.7 111.0,200.1 116.0,183.6 121.0,160.9 126.0,141.9 131.0,130.6 138.0,103.3 144.0,104.2 151.0,132.7 156.0,146.4 161.0,164.8 166.0,182.3 171.0,200.9 176.0,225.3 180.0,272.4 185.0,280.7 190.0,284.1 195.0,300.9 200.0,296.8 205.0,305.1 210.0,304.5 215.0,299.3 220.0,295.9 225.0,298.6 230.0,293.7 235.0,301.7 240.0,307.6 245.0,316.6 250.0,323.9 255.0,326.2 260.0,333.7 265.0,332.5 270.0,337.4 275.0,339.2 280.0,341.5 285.0,341.0 290.0,345.2 295.0,347.5 300.0,349.4 305.0,352.4 310.0,355.0 315.0,357.5 320.0,360.0 325.0,361.0 330.0,362.0" stroke="#333" stroke-width="1.15" vector-effect="non-scaling-stroke"/>
<polyline points="24.0,270.0 30.0,294.8 35.0,303.1 40.0,300.8 45.0,307.4 50.0,314.7 55.0,316.3 60.0,321.1 65.0,331.9 70.0,333.9 75.0,338.8 80.0,342.0 85.0,339.7 90.0,341.2 95.0,339.0 100.0,343.3 105.0,339.4 110.0,341.6 115.0,339.0 120.0,340.4 125.0,335.2 130.0,329.9 135.0,324.3 140.0,320.8 145.0,326.5 150.0,322.7 155.0,317.8 160.0,317.5 165.0,319.0 170.0,314.9 175.0,317.0 180.0,318.6 185.0,319.5 190.0,305.9 195.0,318.1 200.0,316.8 205.0,322.1 210.0,314.2 215.0,308.1 220.0,307.4 225.0,303.5 230.0,305.8 235.0,299.6 240.0,293.3 245.0,299.4 250.0,311.0 255.0,312.5 260.0,310.2 265.0,301.2 270.0,294.9 275.0,302.2 280.0,289.6 285.0,293.2 290.0,299.1 295.0,291.8 300.0,294.3 305.0,291.4 310.0,298.0 314.0,299.0 318.0,295.3 325.0,275.4 332.0,257.9 336.0,268.4 340.0,258.1 345.0,267.2 350.0,276.4 355.0,280.3 360.0,275.4 365.0,273.8 370.0,273.0 375.0,267.8 380.0,272.2 385.0,271.7 390.0,270.2 395.0,272.4 400.0,278.7 405.0,283.3 410.0,293.5 415.0,297.0 420.0,307.2 425.0,303.8 430.0,313.2 435.0,316.5 440.0,328.9 445.0,332.3 450.0,335.5 455.0,342.3 460.0,344.4 465.0,350.5 470.0,355.0 475.0,357.5 480.0,360.0 485.0,361.0 490.0,362.0 495.0,361.0 500.0,360.0 505.0,360.5 510.0,361.0 515.0,361.5 520.0,362.0 520.0,362.0 525.0,361.5 530.0,361.0 535.0,360.5 540.0,360.0 545.0,360.5 550.0,361.0 555.0,361.5 560.0,362.0 565.0,362.0 570.0,362.0 575.0,362.0 580.0,362.0 585.0,362.0 590.0,362.0 595.0,362.0 600.0,362.0 605.0,362.0 610.0,362.0 615.0,362.0 620.0,362.0 625.0,362.0 630.0,362.0 635.0,362.0 640.0,362.0 645.0,362.0 650.0,362.0 655.0,362.0 660.0,362.0 665.0,362.0 670.0,362.0 675.0,362.0 680.0,362.0 685.0,362.0 690.0,362.0 695.0,362.0 700.0,362.0 705.0,362.0 710.0,362.0 715.0,362.0 720.0,362.0 725.0,362.0 730.0,362.0 735.0,362.0 740.0,362.0 745.0,362.0 750.0,362.0 755.0,362.0 760.0,362.0 765.0,362.0 770.0,362.0 775.0,362.0 780.0,362.0 785.0,362.0 790.0,362.0 795.0,362.0 800.0,362.0 805.0,362.0 810.0,362.0 815.0,362.0 820.0,362.0 825.0,362.0 830.0,362.0 835.0,362.0 840.0,362.0 845.0,362.0 850.0,362.0 855.0,362.0 860.0,362.0 865.0,362.0 870.0,362.0 875.0,362.0 880.0,362.0 885.0,362.0 890.0,362.0 895.0,362.0 900.0,362.0 905.0,362.0 910.0,362.0 915.0,362.0 920.0,362.0 925.0,362.0 930.0,362.0 935.0,362.0 940.0,362.0 945.0,362.0 950.0,362.0 955.0,362.0 960.0,362.0 965.0,362.0 970.0,362.0 975.0,362.0 980.0,362.0 985.0,362.0 990.0,362.0 995.0,362.0 1000.0,362.0" stroke="#000" stroke-width="1.9" vector-effect="non-scaling-stroke"/>
</g>
<path d="M271.8 382.3H374.9V416.8" fill="none" stroke="#333" stroke-width="1"/>
<path d="M271.8 416.8H374.9" fill="none" stroke="#222" stroke-width="1.1"/>
<path d="M271.8 381.9V417.3" fill="none" stroke="#111" stroke-width="1.6"/>
<path d="M271.8 416.8v2M279.56 416.8v1.2M284.1 416.8v1.2M287.32 416.8v1.2M289.82 416.8v1.2M291.86 416.8v1.2M293.58 416.8v1.2M295.08 416.8v1.2M296.4 416.8v1.2M297.57 416.8v2M305.33 416.8v1.2M309.87 416.8v1.2M313.09 416.8v1.2M315.59 416.8v1.2M317.63 416.8v1.2M319.36 416.8v1.2M320.85 416.8v1.2M322.17 416.8v1.2M323.35 416.8v2M331.11 416.8v1.2M335.65 416.8v1.2M338.87 416.8v1.2M341.37 416.8v1.2M343.41 416.8v1.2M345.13 416.8v1.2M346.63 416.8v1.2M347.95 416.8v1.2M349.12 416.8v2M356.88 416.8v1.2M361.42 416.8v1.2M364.64 416.8v1.2M367.14 416.8v1.2M369.18 416.8v1.2M370.91 416.8v1.2M372.4 416.8v1.2M373.72 416.8v1.2M374.9 416.8v2" stroke="#333" stroke-width="0.6"/>
<text x="268.7" y="425" font-size="4.8" fill="#1a1a1a">10<tspan font-size="4.3" dx="0.3" dy="-2.7">0</tspan></text>
<text x="294.47" y="425" font-size="4.8" fill="#1a1a1a">10<tspan font-size="4.3" dx="0.3" dy="-2.7">1</tspan></text>
<text x="320.25" y="425" font-size="4.8" fill="#1a1a1a">10<tspan font-size="4.3" dx="0.3" dy="-2.7">2</tspan></text>
<text x="346.02" y="425" font-size="4.8" fill="#1a1a1a">10<tspan font-size="4.3" dx="0.3" dy="-2.7">3</tspan></text>
<text x="371.8" y="425" font-size="4.8" fill="#1a1a1a">10<tspan font-size="4.3" dx="0.3" dy="-2.7">4</tspan></text>
<text x="323.75" y="430.1" font-size="4.6" fill="#1a1a1a" text-anchor="middle">FL2-Height</text>
<text transform="translate(268.3 416.8) rotate(-90)" font-size="5" fill="#1a1a1a" text-anchor="middle">0</text>
<text transform="translate(268.3 409.9) rotate(-90)" font-size="5" fill="#1a1a1a" text-anchor="middle">10</text>
<text transform="translate(268.3 403) rotate(-90)" font-size="5" fill="#1a1a1a" text-anchor="middle">20</text>
<text transform="translate(268.3 396.1) rotate(-90)" font-size="5" fill="#1a1a1a" text-anchor="middle">30</text>
<text transform="translate(268.3 389.2) rotate(-90)" font-size="5" fill="#1a1a1a" text-anchor="middle">40</text>
<text transform="translate(268.3 382.3) rotate(-90)" font-size="5" fill="#1a1a1a" text-anchor="middle">50</text>
<path d="M271.8 416.8h-1.6M271.8 409.9h-1.6M271.8 403h-1.6M271.8 396.1h-1.6M271.8 389.2h-1.6M271.8 382.3h-1.6" stroke="#333" stroke-width="0.6"/>
<text transform="translate(263 400.6) rotate(-90)" font-size="4.4" fill="#1a1a1a" text-anchor="middle">Counts</text>
<g transform="translate(270 379) scale(0.10385)" fill="none" stroke-linejoin="round">
<polyline points="26.0,280.0 30.5,281.1 35.0,290.0 40.0,290.1 45.0,304.5 50.0,298.8 55.0,305.7 60.0,315.6 65.0,313.7 70.0,318.5 75.0,313.0 80.0,300.7 85.0,291.9 90.0,276.4 95.0,257.5 100.0,249.6 105.0,218.0 110.0,211.1 115.0,188.7 120.0,147.5 125.0,133.1 130.0,119.3 135.0,110.1 140.0,100.0 145.0,123.5 150.0,126.1 155.0,148.1 160.0,161.7 165.0,176.7 170.0,182.7 175.0,220.6 180.0,238.8 185.0,261.1 190.0,269.5 195.0,281.6 200.0,287.7 205.0,290.0 210.0,294.8 215.0,297.2 220.0,296.3 225.0,295.5 230.0,311.6 235.0,309.5 240.0,308.9 245.0,316.7 250.0,319.1 255.0,319.4 260.0,329.4 265.0,324.1 270.0,333.2 275.0,332.9 280.0,333.0 285.0,336.7 290.0,339.8 295.0,341.0 300.0,345.8 305.0,347.9 310.0,350.8 315.0,351.4 320.0,352.3 325.0,353.1 330.0,353.7 335.0,354.3 340.0,355.0" stroke="#333" stroke-width="1.15" vector-effect="non-scaling-stroke"/>
<polyline points="26.0,270.0 30.5,283.3 35.0,295.1 40.0,301.5 45.0,301.9 50.0,301.0 55.0,316.2 60.0,320.3 65.0,320.8 70.0,318.6 75.0,318.8 80.0,321.1 85.0,327.9 90.0,329.5 95.0,331.3 100.0,328.2 105.0,325.6 110.0,318.7 115.0,317.8 120.0,310.9 125.0,314.8 130.0,303.2 135.0,303.9 140.0,300.3 145.0,299.2 150.0,299.6 155.0,308.2 160.0,295.4 165.0,298.1 170.0,294.9 175.0,282.7 180.0,273.0 185.0,268.6 190.0,277.0 195.0,270.0 200.0,272.7 205.0,273.3 210.0,275.3 215.0,274.3 220.0,268.9 225.0,262.8 230.0,270.9 235.0,273.0 240.0,270.7 245.0,255.2 250.0,250.6 255.0,263.5 260.0,258.6 265.0,252.3 270.0,246.1 275.0,236.2 280.0,245.3 285.0,244.5 290.0,246.5 295.0,234.5 300.0,253.2 305.0,255.4 310.0,262.1 315.0,251.8 320.0,267.0 325.0,268.2 330.0,265.4 335.0,279.0 340.0,286.2 345.0,287.2 350.0,289.4 355.0,300.7 360.0,303.9 365.0,306.5 370.0,309.1 375.0,304.9 380.0,320.7 385.0,319.9 390.0,324.2 395.0,323.5 400.0,327.0 405.0,326.4 410.0,331.1 415.0,336.3 420.0,337.8 425.0,338.0 430.0,343.4 435.0,345.1 440.0,347.0 445.0,347.9 450.0,348.1 455.0,350.7 460.0,351.3 465.0,351.8 470.0,352.2 475.0,352.7 480.0,353.4 485.0,354.3 490.0,355.0 495.0,355.5 500.0,356.0 505.0,356.5 510.0,357.0 515.0,357.5 520.0,358.0 520.0,358.0 525.0,357.7 530.0,357.4 535.0,357.1 540.0,356.8 545.0,356.5 550.0,356.2 555.0,355.9 560.0,355.6 565.0,355.3 570.0,355.0 575.0,355.8 580.0,356.5 585.0,357.2 590.0,358.0 595.0,358.0 600.0,358.0 605.0,358.0 610.0,358.0 615.0,358.0 620.0,358.0 625.0,358.0 630.0,358.0 635.0,358.0 640.0,358.0 645.0,358.0 650.0,358.0 655.0,358.0 660.0,358.0 665.0,358.0 670.0,358.0 675.0,358.0 680.0,358.0 685.0,358.0 690.0,358.0 695.0,358.0 700.0,358.0 705.0,358.0 710.0,358.0 715.0,358.0 720.0,358.0 725.0,358.0 730.0,358.0 735.0,358.0 740.0,358.0 745.0,358.0 750.0,358.0 755.0,358.0 760.0,358.0 765.0,358.0 770.0,358.0 775.0,358.0 780.0,358.0 785.0,358.0 790.0,358.0 795.0,358.0 800.0,358.0 805.0,358.0 810.0,358.0 815.0,358.0 820.0,358.0 825.0,358.0 830.0,358.0 835.0,358.0 840.0,358.0 845.0,358.0 850.0,358.0 855.0,358.0 860.0,358.0 865.0,358.0 870.0,358.0 875.0,358.0 880.0,358.0 885.0,358.0 890.0,358.0 895.0,358.0 900.0,358.0 905.0,358.0 910.0,358.0 915.0,358.0 920.0,358.0 925.0,358.0 930.0,358.0 935.0,358.0 940.0,358.0 945.0,358.0 950.0,358.0 955.0,358.0 960.0,358.0 965.0,358.0 970.0,358.0 975.0,358.0 980.0,358.0 985.0,358.0 990.0,358.0 995.0,358.0 1000.0,358.0 1005.0,358.0 1010.0,358.0" stroke="#000" stroke-width="1.9" vector-effect="non-scaling-stroke"/>
</g>
<path d="M413 382.3H516.2V416.8" fill="none" stroke="#333" stroke-width="1"/>
<path d="M413 416.8H516.2" fill="none" stroke="#222" stroke-width="1.1"/>
<path d="M413 381.9V417.3" fill="none" stroke="#111" stroke-width="1.6"/>
<path d="M413 416.8v2M420.77 416.8v1.2M425.31 416.8v1.2M428.53 416.8v1.2M431.03 416.8v1.2M433.08 416.8v1.2M434.8 416.8v1.2M436.3 416.8v1.2M437.62 416.8v1.2M438.8 416.8v2M446.57 416.8v1.2M451.11 416.8v1.2M454.33 416.8v1.2M456.83 416.8v1.2M458.88 416.8v1.2M460.6 416.8v1.2M462.1 416.8v1.2M463.42 416.8v1.2M464.6 416.8v2M472.37 416.8v1.2M476.91 416.8v1.2M480.13 416.8v1.2M482.63 416.8v1.2M484.68 416.8v1.2M486.4 416.8v1.2M487.9 416.8v1.2M489.22 416.8v1.2M490.4 416.8v2M498.17 416.8v1.2M502.71 416.8v1.2M505.93 416.8v1.2M508.43 416.8v1.2M510.48 416.8v1.2M512.2 416.8v1.2M513.7 416.8v1.2M515.02 416.8v1.2M516.2 416.8v2" stroke="#333" stroke-width="0.6"/>
<text x="409.9" y="425" font-size="4.8" fill="#1a1a1a">10<tspan font-size="4.3" dx="0.3" dy="-2.7">0</tspan></text>
<text x="435.7" y="425" font-size="4.8" fill="#1a1a1a">10<tspan font-size="4.3" dx="0.3" dy="-2.7">1</tspan></text>
<text x="461.5" y="425" font-size="4.8" fill="#1a1a1a">10<tspan font-size="4.3" dx="0.3" dy="-2.7">2</tspan></text>
<text x="487.3" y="425" font-size="4.8" fill="#1a1a1a">10<tspan font-size="4.3" dx="0.3" dy="-2.7">3</tspan></text>
<text x="513.1" y="425" font-size="4.8" fill="#1a1a1a">10<tspan font-size="4.3" dx="0.3" dy="-2.7">4</tspan></text>
<text x="465" y="430.1" font-size="4.6" fill="#1a1a1a" text-anchor="middle">FL2-Height</text>
<text transform="translate(409.5 416.8) rotate(-90)" font-size="5" fill="#1a1a1a" text-anchor="middle">0</text>
<text transform="translate(409.5 409.9) rotate(-90)" font-size="5" fill="#1a1a1a" text-anchor="middle">10</text>
<text transform="translate(409.5 403) rotate(-90)" font-size="5" fill="#1a1a1a" text-anchor="middle">20</text>
<text transform="translate(409.5 396.1) rotate(-90)" font-size="5" fill="#1a1a1a" text-anchor="middle">30</text>
<text transform="translate(409.5 389.2) rotate(-90)" font-size="5" fill="#1a1a1a" text-anchor="middle">40</text>
<text transform="translate(409.5 382.3) rotate(-90)" font-size="5" fill="#1a1a1a" text-anchor="middle">50</text>
<path d="M413 416.8h-1.6M413 409.9h-1.6M413 403h-1.6M413 396.1h-1.6M413 389.2h-1.6M413 382.3h-1.6" stroke="#333" stroke-width="0.6"/>
<text transform="translate(404.2 400.6) rotate(-90)" font-size="4.4" fill="#1a1a1a" text-anchor="middle">Counts</text>
<g transform="translate(411 379) scale(0.10385)" fill="none" stroke-linejoin="round">
<polyline points="26.0,230.0 30.5,251.6 35.0,247.0 40.0,266.4 45.0,269.7 50.0,287.0 55.0,288.6 60.0,301.0 65.0,295.2 70.0,311.7 75.0,308.9 80.0,295.6 85.0,287.7 90.0,267.2 95.0,231.0 100.0,217.6 105.0,188.8 110.0,169.3 115.0,151.2 120.0,132.4 125.0,113.2 130.0,116.2 135.0,92.3 140.0,116.3 145.0,127.2 150.0,136.7 155.0,157.5 160.0,167.0 165.0,191.6 170.0,218.4 175.0,230.9 180.0,243.4 185.0,265.3 190.0,280.5 195.0,280.1 200.0,284.0 205.0,287.9 210.0,297.8 215.0,301.9 220.0,302.2 225.0,301.5 230.0,298.6 235.0,303.5 240.0,317.0 245.0,320.3 250.0,324.6 255.0,324.7 260.0,327.0 265.0,330.2 270.0,332.7 275.0,338.0 280.0,339.1 285.0,342.7 290.0,344.8 295.0,346.6 300.0,348.5 305.0,349.5 310.0,349.4 315.0,351.6 320.0,352.3 325.0,353.7 330.0,355.0" stroke="#333" stroke-width="1.15" vector-effect="non-scaling-stroke"/>
<polyline points="26.0,220.0 30.5,244.5 35.0,248.0 40.0,251.2 45.0,273.1 50.0,277.4 55.0,282.0 60.0,293.6 65.0,296.8 70.0,293.4 75.0,308.5 80.0,311.3 85.0,319.6 90.0,317.2 95.0,329.5 100.0,331.8 105.0,333.7 110.0,337.8 115.0,337.8 120.0,341.7 125.0,345.8 130.0,341.8 135.0,339.2 140.0,344.2 145.0,346.3 150.0,340.9 155.0,334.6 160.0,334.8 165.0,333.4 170.0,323.9 175.0,321.4 180.0,323.7 185.0,327.5 190.0,326.9 195.0,323.6 200.0,319.4 205.0,324.0 210.0,319.6 215.0,327.7 220.0,313.8 225.0,313.2 230.0,304.5 235.0,302.1 240.0,307.4 245.0,307.7 250.0,316.9 255.0,318.0 260.0,315.8 265.0,296.2 270.0,292.3 275.0,267.8 280.0,294.4 285.0,299.0 290.0,317.4 295.0,308.0 300.0,305.9 305.0,309.2 310.0,310.9 315.0,311.1 320.0,306.1 325.0,292.0 330.0,287.2 335.0,286.7 340.0,296.5 345.0,291.4 350.0,306.2 355.0,301.3 360.0,301.2 365.0,308.7 370.0,304.2 375.0,302.7 380.0,304.1 385.0,295.7 390.0,299.4 395.0,298.1 400.0,306.0 405.0,294.0 410.0,295.7 415.0,300.1 420.0,308.7 425.0,323.0 430.0,324.7 435.0,301.4 440.0,261.9 445.0,249.5 450.0,255.0 455.0,255.9 460.0,260.5 465.0,249.4 470.0,264.1 475.0,267.7 480.0,255.3 485.0,250.9 490.0,247.5 495.0,243.8 500.0,253.1 505.0,247.9 510.0,233.6 515.0,246.5 520.0,229.8 525.0,213.0 530.0,215.3 535.0,212.5 540.0,226.4 545.0,223.7 550.0,215.8 554.0,214.0 558.0,219.4 565.0,243.6 570.0,253.0 575.0,269.4 580.0,270.4 585.0,273.7 590.0,281.0 595.0,290.2 600.0,285.2 605.0,289.2 610.0,306.8 615.0,300.3 620.0,315.3 625.0,321.2 630.0,323.1 635.0,325.7 640.0,330.7 645.0,337.7 650.0,338.5 655.0,344.2 660.0,348.7 665.0,351.7 670.0,353.4 675.0,355.0 680.0,355.7 685.0,356.3 690.0,357.0 695.0,357.0 700.0,357.0 705.0,357.0 710.0,357.0 715.0,357.0 720.0,357.0 725.0,357.0 730.0,357.0 735.0,357.0 740.0,357.0 745.0,357.0 750.0,357.0 755.0,357.0 760.0,357.0 765.0,357.0 770.0,357.0 775.0,357.0 780.0,357.0 785.0,357.0 790.0,357.0 795.0,357.0 800.0,357.0 805.0,357.0 810.0,357.0 815.0,357.0 820.0,357.0 825.0,357.0 830.0,357.0 835.0,357.0 840.0,357.0 845.0,357.0 850.0,357.0 855.0,357.0 860.0,357.0 865.0,357.0 870.0,357.0 875.0,357.0 880.0,357.0 885.0,357.0 890.0,357.0 895.0,357.0 900.0,357.0 905.0,357.0 910.0,357.0 915.0,357.0 920.0,357.0 925.0,357.0 930.0,357.0 935.0,357.0 940.0,357.0 945.0,357.0 950.0,357.0 955.0,357.0 960.0,357.0 965.0,357.0 970.0,357.0 975.0,357.0 980.0,357.0 985.0,357.0 990.0,357.0 995.0,357.0 1000.0,357.0" stroke="#000" stroke-width="1.9" vector-effect="non-scaling-stroke"/>
</g>
</svg></body></html>
